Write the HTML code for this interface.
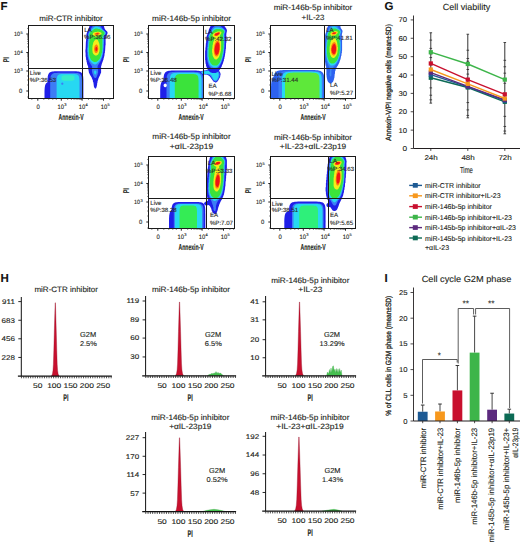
<!DOCTYPE html><html><head><meta charset="utf-8"><style>html,body{margin:0;padding:0;background:#fff;overflow:hidden;}svg{display:block;}text{font-family:"Liberation Sans",sans-serif;stroke:#231f20;stroke-width:0.12px;text-rendering:geometricPrecision;}</style></head><body>
<svg width="520" height="543" viewBox="0 0 520 543">
<rect width="520" height="543" fill="#fff"/>
<defs><clipPath id="c1"><rect x="29.0" y="26.0" width="84.0" height="72.0"/></clipPath><clipPath id="c2"><rect x="149.0" y="26.0" width="85.0" height="72.0"/></clipPath><clipPath id="c3"><rect x="271.0" y="26.0" width="84.0" height="72.0"/></clipPath><clipPath id="c4"><rect x="149.0" y="157.0" width="85.0" height="71.0"/></clipPath><clipPath id="c5"><rect x="271.0" y="157.0" width="84.0" height="71.0"/></clipPath></defs>
<text x="0.50" y="10.00" font-size="11.5" font-weight="bold" text-anchor="start" textLength="7.02" lengthAdjust="spacingAndGlyphs" fill="#111">F</text>
<g clip-path="url(#c1)">
<path d="M83.40,90.60 83.38,100.26 83.32,102.36 83.22,103.79 83.08,104.88 82.90,105.77 82.68,106.51 82.41,107.15 82.08,107.70 81.71,108.17 81.27,108.58 80.76,108.93 80.18,109.22 79.48,109.46 78.66,109.66 77.65,109.81 76.33,109.92 74.39,109.98 65.45,110.00 56.51,109.98 54.57,109.92 53.25,109.81 52.24,109.66 51.42,109.46 50.72,109.22 50.14,108.93 49.63,108.58 49.19,108.17 48.82,107.70 48.49,107.15 48.22,106.51 48.00,105.77 47.82,104.88 47.68,103.79 47.58,102.36 47.52,100.26 47.50,90.60 47.52,80.94 47.58,78.84 47.68,77.41 47.82,76.32 48.00,75.43 48.22,74.69 48.49,74.05 48.82,73.50 49.19,73.03 49.63,72.62 50.14,72.27 50.72,71.98 51.42,71.74 52.24,71.54 53.25,71.39 54.57,71.28 56.51,71.22 65.45,71.20 74.39,71.22 76.33,71.28 77.65,71.39 78.66,71.54 79.48,71.74 80.18,71.98 80.76,72.27 81.27,72.62 81.71,73.03 82.08,73.50 82.41,74.05 82.68,74.69 82.90,75.43 83.08,76.32 83.22,77.41 83.32,78.84 83.38,80.94Z" fill="#1f1fe8"/>
<path d="M58.00,96.00 57.99,100.13 57.95,101.83 57.88,103.12 57.79,104.19 57.68,105.10 57.53,105.90 57.36,106.60 57.16,107.22 56.93,107.77 56.66,108.25 56.36,108.67 56.02,109.03 55.64,109.33 55.20,109.57 54.68,109.76 54.06,109.89 53.24,109.97 51.25,110.00 49.26,109.97 48.44,109.89 47.82,109.76 47.30,109.57 46.86,109.33 46.48,109.03 46.14,108.67 45.84,108.25 45.57,107.77 45.34,107.22 45.14,106.60 44.97,105.90 44.82,105.10 44.71,104.19 44.62,103.12 44.55,101.83 44.51,100.13 44.50,96.00 44.51,91.87 44.55,90.17 44.62,88.88 44.71,87.81 44.82,86.90 44.97,86.10 45.14,85.40 45.34,84.78 45.57,84.23 45.84,83.75 46.14,83.33 46.48,82.97 46.86,82.67 47.30,82.43 47.82,82.24 48.44,82.11 49.26,82.03 51.25,82.00 53.24,82.03 54.06,82.11 54.68,82.24 55.20,82.43 55.64,82.67 56.02,82.97 56.36,83.33 56.66,83.75 56.93,84.23 57.16,84.78 57.36,85.40 57.53,86.10 57.68,86.90 57.79,87.81 57.88,88.88 57.95,90.17 57.99,91.87Z" fill="#1f1fe8"/>
<path d="M82.00,90.90 81.98,99.91 81.93,101.88 81.84,103.20 81.72,104.22 81.56,105.05 81.36,105.75 81.12,106.34 80.83,106.85 80.50,107.29 80.11,107.67 79.67,108.00 79.14,108.27 78.53,108.50 77.80,108.68 76.91,108.82 75.74,108.92 74.02,108.98 66.10,109.00 58.18,108.98 56.46,108.92 55.29,108.82 54.40,108.68 53.67,108.50 53.06,108.27 52.53,108.00 52.09,107.67 51.70,107.29 51.37,106.85 51.08,106.34 50.84,105.75 50.64,105.05 50.48,104.22 50.36,103.20 50.27,101.88 50.22,99.91 50.20,90.90 50.22,81.89 50.27,79.92 50.36,78.60 50.48,77.58 50.64,76.75 50.84,76.05 51.08,75.46 51.37,74.95 51.70,74.51 52.09,74.13 52.53,73.80 53.06,73.53 53.67,73.30 54.40,73.12 55.29,72.98 56.46,72.88 58.18,72.82 66.10,72.80 74.02,72.82 75.74,72.88 76.91,72.98 77.80,73.12 78.53,73.30 79.14,73.53 79.67,73.80 80.11,74.13 80.50,74.51 80.83,74.95 81.12,75.46 81.36,76.05 81.56,76.75 81.72,77.58 81.84,78.60 81.93,79.92 81.98,81.89Z" fill="#3d7df5"/>
<path d="M79.50,91.00 79.49,99.47 79.45,101.31 79.39,102.55 79.30,103.51 79.18,104.29 79.04,104.95 78.87,105.50 78.66,105.98 78.42,106.40 78.14,106.75 77.82,107.06 77.44,107.32 77.00,107.53 76.48,107.70 75.83,107.83 74.99,107.93 73.75,107.98 68.05,108.00 62.35,107.98 61.11,107.93 60.27,107.83 59.62,107.70 59.10,107.53 58.66,107.32 58.28,107.06 57.96,106.75 57.68,106.40 57.44,105.98 57.23,105.50 57.06,104.95 56.92,104.29 56.80,103.51 56.71,102.55 56.65,101.31 56.61,99.47 56.60,91.00 56.61,82.53 56.65,80.69 56.71,79.45 56.80,78.49 56.92,77.71 57.06,77.05 57.23,76.50 57.44,76.02 57.68,75.60 57.96,75.25 58.28,74.94 58.66,74.68 59.10,74.47 59.62,74.30 60.27,74.17 61.11,74.07 62.35,74.02 68.05,74.00 73.75,74.02 74.99,74.07 75.83,74.17 76.48,74.30 77.00,74.47 77.44,74.68 77.82,74.94 78.14,75.25 78.42,75.60 78.66,76.02 78.87,76.50 79.04,77.05 79.18,77.71 79.30,78.49 79.39,79.45 79.45,80.69 79.49,82.53Z" fill="#27d8f2"/>
<path d="M74.50,78.00 74.49,78.83 74.45,79.17 74.39,79.42 74.30,79.64 74.19,79.82 74.05,79.98 73.88,80.12 73.69,80.24 73.47,80.35 73.21,80.45 72.92,80.53 72.60,80.61 72.23,80.67 71.80,80.71 71.31,80.75 70.71,80.78 69.92,80.79 68.00,80.80 66.08,80.79 65.29,80.78 64.69,80.75 64.20,80.71 63.77,80.67 63.40,80.61 63.08,80.53 62.79,80.45 62.53,80.35 62.31,80.24 62.12,80.12 61.95,79.98 61.81,79.82 61.70,79.64 61.61,79.42 61.55,79.17 61.51,78.83 61.50,78.00 61.51,77.17 61.55,76.83 61.61,76.58 61.70,76.36 61.81,76.18 61.95,76.02 62.12,75.88 62.31,75.76 62.53,75.65 62.79,75.55 63.08,75.47 63.40,75.39 63.77,75.33 64.20,75.29 64.69,75.25 65.29,75.22 66.08,75.21 68.00,75.20 69.92,75.21 70.71,75.22 71.31,75.25 71.80,75.29 72.23,75.33 72.60,75.39 72.92,75.47 73.21,75.55 73.47,75.65 73.69,75.76 73.88,75.88 74.05,76.02 74.19,76.18 74.30,76.36 74.39,76.58 74.45,76.83 74.49,77.17Z" fill="#38eec8"/>
<path d="M63.40,83.70 63.40,83.80 63.38,83.89 63.36,83.98 63.33,84.08 63.30,84.16 63.25,84.25 63.20,84.33 63.14,84.41 63.08,84.48 63.01,84.54 62.93,84.60 62.85,84.65 62.76,84.70 62.68,84.73 62.58,84.76 62.49,84.78 62.40,84.80 62.30,84.80 62.20,84.80 62.11,84.78 62.02,84.76 61.92,84.73 61.84,84.70 61.75,84.65 61.67,84.60 61.59,84.54 61.52,84.48 61.46,84.41 61.40,84.33 61.35,84.25 61.30,84.16 61.27,84.08 61.24,83.98 61.22,83.89 61.20,83.80 61.20,83.70 61.20,83.60 61.22,83.51 61.24,83.42 61.27,83.32 61.30,83.24 61.35,83.15 61.40,83.07 61.46,82.99 61.52,82.92 61.59,82.86 61.67,82.80 61.75,82.75 61.84,82.70 61.92,82.67 62.02,82.64 62.11,82.62 62.20,82.60 62.30,82.60 62.40,82.60 62.49,82.62 62.58,82.64 62.68,82.67 62.76,82.70 62.85,82.75 62.93,82.80 63.01,82.86 63.08,82.92 63.14,82.99 63.20,83.07 63.25,83.15 63.30,83.24 63.33,83.32 63.36,83.42 63.38,83.51 63.40,83.60Z" fill="#3d7df5"/>
</g>
<path d="M103.9,26.1 89.6,26.1 89.1,26.9 89.1,27.4 88.1,29.4 87.9,30.6 86.9,32.4 86.9,32.9 86.4,33.9 86.4,38.6 86.1,38.9 86.1,41.1 85.9,41.4 85.6,49.4 85.4,49.6 85.4,52.4 85.6,52.6 85.6,56.6 85.9,56.9 85.9,58.4 86.1,58.6 86.1,59.9 86.4,60.1 86.6,62.1 86.9,62.4 87.1,63.9 88.1,66.6 88.4,70.1 88.6,70.4 88.9,72.6 90.1,75.1 91.4,76.9 91.9,77.9 91.9,78.4 92.4,79.1 92.4,79.6 92.9,80.6 92.9,81.4 93.4,82.4 93.9,86.4 94.6,88.1 95.1,88.4 95.9,88.4 96.6,87.1 96.9,85.4 97.1,85.1 97.1,83.4 97.4,83.1 97.6,80.9 97.9,80.6 98.6,77.9 100.1,75.1 100.1,74.6 100.6,73.9 100.6,73.4 101.1,72.4 101.1,66.1 101.4,65.9 101.4,65.1 101.6,64.9 101.6,64.4 103.6,58.9 103.6,58.1 103.9,57.9 103.9,57.1 104.4,55.9 104.4,54.6 104.6,54.4 104.6,53.1 104.9,52.9 104.9,51.4 105.1,51.1 105.4,45.4 105.6,45.1 105.6,37.9 105.9,37.6 105.9,36.4 107.4,33.9 107.6,32.4 107.1,31.4 105.1,29.4 104.4,27.9Z" fill="#1f1fe8" fill-rule="evenodd"/>
<path d="M100.4,26.1 92.9,26.1 91.9,27.1 90.9,28.6 90.4,29.9 88.6,32.4 87.9,34.4 88.1,38.6 87.9,38.9 87.9,40.6 87.6,40.9 87.4,47.6 87.1,47.9 87.1,52.1 87.4,52.4 87.4,55.1 87.6,55.4 87.6,56.9 87.9,57.1 87.9,58.1 88.1,58.4 88.1,59.1 88.4,59.4 88.6,60.6 90.1,63.6 92.1,66.6 92.1,69.9 91.9,70.1 92.1,72.6 92.4,72.9 92.6,74.1 93.1,74.9 93.1,75.4 93.9,76.9 94.9,78.1 95.6,78.1 96.4,77.4 97.6,74.6 97.9,73.1 98.1,72.9 98.1,69.9 97.6,68.6 97.6,66.1 99.1,63.4 100.1,62.1 101.4,59.6 101.4,59.1 102.6,55.9 102.6,55.1 102.9,54.9 103.1,52.4 103.4,52.1 103.4,50.6 103.6,50.4 103.6,47.9 103.9,47.6 103.9,42.1 104.1,41.9 104.1,39.1 103.9,38.9 103.9,37.9 104.1,37.6 104.4,35.9 105.9,33.6 105.9,32.4 105.6,31.9 102.4,28.9 101.9,27.9Z" fill="#3d7df5" fill-rule="evenodd"/>
<path d="M94.6,70.4 94.1,71.1 94.1,73.1 94.9,74.4 95.6,74.4 96.4,72.9 96.4,71.6 95.6,70.4ZM97.6,26.6 95.4,26.6 93.6,27.4 91.6,29.4 90.9,30.6 89.9,31.6 88.6,33.9 88.9,38.6 88.6,38.9 88.6,40.6 88.4,40.9 88.1,47.4 87.9,47.6 87.9,51.9 88.1,52.1 88.1,54.6 88.4,54.9 88.4,56.1 88.6,56.4 88.6,57.1 88.9,57.4 88.9,58.1 89.1,58.4 89.4,59.6 90.9,62.1 92.6,63.6 94.6,64.4 95.4,64.4 97.1,63.6 99.1,61.6 100.1,60.1 101.4,57.4 101.4,56.9 101.9,55.9 101.9,55.1 102.1,54.9 102.1,54.1 102.4,53.9 102.6,51.4 102.9,51.1 102.9,49.4 103.1,49.1 103.1,44.4 103.4,44.1 103.4,39.4 103.1,39.1 103.1,37.6 103.4,37.4 103.4,36.6 104.9,34.4 105.4,33.1 105.1,32.1 103.9,30.9 101.9,29.6 99.9,27.6 99.1,27.1 98.6,27.1Z" fill="#27d8f2" fill-rule="evenodd"/>
<path d="M97.6,28.6 95.4,28.6 93.6,29.4 90.6,31.9 89.9,32.9 89.4,34.1 89.4,35.4 89.6,35.6 89.9,37.9 89.6,38.1 89.6,39.9 89.4,40.1 89.4,41.9 89.1,42.1 89.1,44.6 88.9,44.9 88.9,53.1 89.1,53.4 89.1,54.6 89.4,54.9 89.4,55.9 89.6,56.1 89.9,57.6 91.1,59.9 92.4,61.1 94.1,61.9 96.1,61.9 97.6,61.1 99.6,58.9 101.1,55.6 101.6,53.1 101.9,52.9 102.1,49.9 102.4,49.6 102.4,36.9 103.4,35.1 104.1,34.4 104.6,33.1 104.1,31.9 102.4,30.6 99.4,29.1 97.9,28.9Z" fill="#3be33b" fill-rule="evenodd"/>
<path d="M95.6,39.6 94.1,40.9 93.1,43.1 93.1,43.9 92.6,45.1 92.6,46.4 92.4,46.6 92.4,51.1 92.6,51.4 92.6,52.4 93.4,54.1 95.1,55.6 96.6,55.6 98.1,54.4 98.9,53.1 98.9,52.6 99.4,51.6 99.4,50.6 99.6,50.4 99.6,45.4 99.4,45.1 99.4,43.9 98.1,40.6 96.9,39.6ZM101.6,33.1 100.9,32.4 99.9,31.9 98.6,31.9 98.4,31.6 97.6,31.6 97.4,31.9 95.6,31.9 93.6,32.6 92.9,33.4 92.6,34.6 92.9,35.1 94.1,36.1 95.4,36.4 95.6,36.6 96.6,36.6 96.9,36.4 98.4,36.1 100.9,34.6 101.6,33.6Z" fill="#f2ee1a" fill-rule="evenodd"/>
<path d="M96.9,44.6 96.1,44.6 95.1,45.4 94.6,46.1 94.4,47.6 94.1,47.9 94.1,50.4 94.4,50.6 94.6,51.9 95.6,52.9 96.6,52.9 97.6,51.9 98.1,50.6 98.1,49.6 98.4,49.4 98.1,46.4 97.6,45.4ZM94.6,34.4 95.4,34.9 98.1,34.9 99.6,34.1 99.9,33.4 98.9,32.6 96.6,32.6 96.4,32.9 95.1,33.1 94.6,33.6Z" fill="#ff7a10" fill-rule="evenodd"/>
<path d="M96.1,47.1 95.6,47.6 95.6,48.1 95.4,48.4 95.4,50.1 95.9,50.9 96.6,50.9 97.4,49.4 97.4,48.4 97.1,48.1 97.1,47.6 96.6,47.1ZM98.6,33.6 97.6,33.1 97.4,33.4 96.4,33.4 96.1,33.6 96.1,34.1 98.1,34.1Z" fill="#f01414" fill-rule="evenodd"/>
<text x="71.00" y="20.50" font-size="7.8" text-anchor="middle" textLength="63.40" lengthAdjust="spacingAndGlyphs" fill="#231f20">miR-CTR inhibitor</text>
<rect x="28.50" y="25.50" width="85.00" height="73.00" fill="none" stroke="#1a1a1a" stroke-width="1.0"/>
<line x1="82.50" y1="25.50" x2="82.50" y2="98.50" stroke="#1a1a1a" stroke-width="1.0"/>
<line x1="28.50" y1="68.50" x2="113.50" y2="68.50" stroke="#1a1a1a" stroke-width="1.0"/>
<line x1="26.30" y1="34.00" x2="28.50" y2="34.00" stroke="#222" stroke-width="1.0"/>
<line x1="27.20" y1="28.43" x2="28.50" y2="28.43" stroke="#333" stroke-width="0.7"/>
<line x1="26.30" y1="52.50" x2="28.50" y2="52.50" stroke="#222" stroke-width="1.0"/>
<line x1="27.20" y1="46.93" x2="28.50" y2="46.93" stroke="#333" stroke-width="0.7"/>
<line x1="27.20" y1="43.67" x2="28.50" y2="43.67" stroke="#333" stroke-width="0.7"/>
<line x1="27.20" y1="41.36" x2="28.50" y2="41.36" stroke="#333" stroke-width="0.7"/>
<line x1="27.20" y1="39.57" x2="28.50" y2="39.57" stroke="#333" stroke-width="0.7"/>
<line x1="27.20" y1="38.10" x2="28.50" y2="38.10" stroke="#333" stroke-width="0.7"/>
<line x1="27.20" y1="36.87" x2="28.50" y2="36.87" stroke="#333" stroke-width="0.7"/>
<line x1="27.20" y1="35.79" x2="28.50" y2="35.79" stroke="#333" stroke-width="0.7"/>
<line x1="27.20" y1="34.85" x2="28.50" y2="34.85" stroke="#333" stroke-width="0.7"/>
<line x1="26.30" y1="71.00" x2="28.50" y2="71.00" stroke="#222" stroke-width="1.0"/>
<line x1="27.20" y1="65.43" x2="28.50" y2="65.43" stroke="#333" stroke-width="0.7"/>
<line x1="27.20" y1="62.17" x2="28.50" y2="62.17" stroke="#333" stroke-width="0.7"/>
<line x1="27.20" y1="59.86" x2="28.50" y2="59.86" stroke="#333" stroke-width="0.7"/>
<line x1="27.20" y1="58.07" x2="28.50" y2="58.07" stroke="#333" stroke-width="0.7"/>
<line x1="27.20" y1="56.60" x2="28.50" y2="56.60" stroke="#333" stroke-width="0.7"/>
<line x1="27.20" y1="55.37" x2="28.50" y2="55.37" stroke="#333" stroke-width="0.7"/>
<line x1="27.20" y1="54.29" x2="28.50" y2="54.29" stroke="#333" stroke-width="0.7"/>
<line x1="27.20" y1="53.35" x2="28.50" y2="53.35" stroke="#333" stroke-width="0.7"/>
<line x1="26.30" y1="91.00" x2="28.50" y2="91.00" stroke="#222" stroke-width="1.0"/>
<line x1="27.20" y1="85.00" x2="28.50" y2="85.00" stroke="#333" stroke-width="0.7"/>
<line x1="27.20" y1="80.00" x2="28.50" y2="80.00" stroke="#333" stroke-width="0.7"/>
<line x1="27.20" y1="97.00" x2="28.50" y2="97.00" stroke="#333" stroke-width="0.7"/>
<line x1="27.20" y1="76.00" x2="28.50" y2="76.00" stroke="#333" stroke-width="0.7"/>
<text x="19.90" y="36.20" font-size="6.2" text-anchor="end" textLength="6.00" lengthAdjust="spacingAndGlyphs" fill="#231f20">10</text>
<text x="20.60" y="34.10" font-size="4.0" text-anchor="start" textLength="2.22" lengthAdjust="spacingAndGlyphs" fill="#333">5</text>
<text x="19.90" y="54.70" font-size="6.2" text-anchor="end" textLength="6.00" lengthAdjust="spacingAndGlyphs" fill="#231f20">10</text>
<text x="20.60" y="52.60" font-size="4.0" text-anchor="start" textLength="2.22" lengthAdjust="spacingAndGlyphs" fill="#333">4</text>
<text x="19.90" y="73.20" font-size="6.2" text-anchor="end" textLength="6.00" lengthAdjust="spacingAndGlyphs" fill="#231f20">10</text>
<text x="20.60" y="71.10" font-size="4.0" text-anchor="start" textLength="2.22" lengthAdjust="spacingAndGlyphs" fill="#333">3</text>
<text x="22.20" y="93.20" font-size="6.2" text-anchor="end" textLength="3.28" lengthAdjust="spacingAndGlyphs" fill="#231f20">0</text>
<line x1="61.30" y1="98.50" x2="61.30" y2="100.70" stroke="#222" stroke-width="1.0"/>
<line x1="67.68" y1="98.50" x2="67.68" y2="99.80" stroke="#333" stroke-width="0.7"/>
<line x1="71.41" y1="98.50" x2="71.41" y2="99.80" stroke="#333" stroke-width="0.7"/>
<line x1="74.06" y1="98.50" x2="74.06" y2="99.80" stroke="#333" stroke-width="0.7"/>
<line x1="76.12" y1="98.50" x2="76.12" y2="99.80" stroke="#333" stroke-width="0.7"/>
<line x1="77.80" y1="98.50" x2="77.80" y2="99.80" stroke="#333" stroke-width="0.7"/>
<line x1="79.22" y1="98.50" x2="79.22" y2="99.80" stroke="#333" stroke-width="0.7"/>
<line x1="80.45" y1="98.50" x2="80.45" y2="99.80" stroke="#333" stroke-width="0.7"/>
<line x1="81.53" y1="98.50" x2="81.53" y2="99.80" stroke="#333" stroke-width="0.7"/>
<line x1="82.10" y1="98.50" x2="82.10" y2="100.70" stroke="#222" stroke-width="1.0"/>
<line x1="88.48" y1="98.50" x2="88.48" y2="99.80" stroke="#333" stroke-width="0.7"/>
<line x1="92.21" y1="98.50" x2="92.21" y2="99.80" stroke="#333" stroke-width="0.7"/>
<line x1="94.86" y1="98.50" x2="94.86" y2="99.80" stroke="#333" stroke-width="0.7"/>
<line x1="96.92" y1="98.50" x2="96.92" y2="99.80" stroke="#333" stroke-width="0.7"/>
<line x1="98.60" y1="98.50" x2="98.60" y2="99.80" stroke="#333" stroke-width="0.7"/>
<line x1="100.02" y1="98.50" x2="100.02" y2="99.80" stroke="#333" stroke-width="0.7"/>
<line x1="101.25" y1="98.50" x2="101.25" y2="99.80" stroke="#333" stroke-width="0.7"/>
<line x1="102.33" y1="98.50" x2="102.33" y2="99.80" stroke="#333" stroke-width="0.7"/>
<line x1="103.50" y1="98.50" x2="103.50" y2="100.70" stroke="#222" stroke-width="1.0"/>
<line x1="109.88" y1="98.50" x2="109.88" y2="99.80" stroke="#333" stroke-width="0.7"/>
<line x1="37.80" y1="98.50" x2="37.80" y2="100.70" stroke="#222" stroke-width="1.0"/>
<line x1="31.80" y1="98.50" x2="31.80" y2="99.80" stroke="#333" stroke-width="0.7"/>
<line x1="43.80" y1="98.50" x2="43.80" y2="99.80" stroke="#333" stroke-width="0.7"/>
<line x1="48.80" y1="98.50" x2="48.80" y2="99.80" stroke="#333" stroke-width="0.7"/>
<line x1="52.80" y1="98.50" x2="52.80" y2="99.80" stroke="#333" stroke-width="0.7"/>
<line x1="56.30" y1="98.50" x2="56.30" y2="99.80" stroke="#333" stroke-width="0.7"/>
<text x="60.85" y="108.60" font-size="6.3" text-anchor="middle" textLength="6.50" lengthAdjust="spacingAndGlyphs" fill="#231f20">10</text>
<text x="64.35" y="106.40" font-size="4.0" text-anchor="start" textLength="2.22" lengthAdjust="spacingAndGlyphs" fill="#333">3</text>
<text x="81.90" y="108.60" font-size="6.3" text-anchor="middle" textLength="6.50" lengthAdjust="spacingAndGlyphs" fill="#231f20">10</text>
<text x="85.40" y="106.40" font-size="4.0" text-anchor="start" textLength="2.22" lengthAdjust="spacingAndGlyphs" fill="#333">4</text>
<text x="104.00" y="108.60" font-size="6.3" text-anchor="middle" textLength="6.50" lengthAdjust="spacingAndGlyphs" fill="#231f20">10</text>
<text x="107.50" y="106.40" font-size="4.0" text-anchor="start" textLength="2.22" lengthAdjust="spacingAndGlyphs" fill="#333">5</text>
<text x="38.10" y="108.60" font-size="6.3" text-anchor="middle" textLength="3.33" lengthAdjust="spacingAndGlyphs" fill="#231f20">0</text>
<text x="71.10" y="120.20" font-size="8.6" font-weight="bold" text-anchor="middle" textLength="25.20" lengthAdjust="spacingAndGlyphs" fill="#231f20">Annexin-V</text>
<text transform="translate(8.70,59.60) rotate(-90)" x="0" y="0" font-size="8.4" font-weight="bold" text-anchor="middle" textLength="4.80" lengthAdjust="spacingAndGlyphs" fill="#231f20">PI</text>
<text x="84.20" y="31.60" font-size="6.1" text-anchor="start" textLength="7.46" lengthAdjust="spacingAndGlyphs" fill="#2a2a2a">LA</text>
<text x="84.00" y="39.40" font-size="6.1" text-anchor="start" textLength="26.45" lengthAdjust="spacingAndGlyphs" fill="#2a2a2a">%P:36.96</text>
<text x="29.80" y="74.60" font-size="6.1" text-anchor="start" textLength="11.19" lengthAdjust="spacingAndGlyphs" fill="#2a2a2a">Live</text>
<text x="29.80" y="82.00" font-size="6.1" text-anchor="start" textLength="26.45" lengthAdjust="spacingAndGlyphs" fill="#2a2a2a">%P:36.53</text>
<g clip-path="url(#c2)">
<path d="M204.00,90.25 203.98,100.09 203.91,102.23 203.80,103.67 203.64,104.79 203.44,105.69 203.18,106.45 202.88,107.10 202.52,107.66 202.09,108.14 201.60,108.55 201.03,108.91 200.36,109.20 199.58,109.45 198.65,109.65 197.51,109.81 196.03,109.91 193.83,109.98 183.75,110.00 173.67,109.98 171.47,109.91 169.99,109.81 168.85,109.65 167.92,109.45 167.14,109.20 166.47,108.91 165.90,108.55 165.41,108.14 164.98,107.66 164.62,107.10 164.32,106.45 164.06,105.69 163.86,104.79 163.70,103.67 163.59,102.23 163.52,100.09 163.50,90.25 163.52,80.41 163.59,78.27 163.70,76.83 163.86,75.71 164.06,74.81 164.32,74.05 164.62,73.40 164.98,72.84 165.41,72.36 165.90,71.95 166.47,71.59 167.14,71.30 167.92,71.05 168.85,70.85 169.99,70.69 171.47,70.59 173.67,70.52 183.75,70.50 193.83,70.52 196.03,70.59 197.51,70.69 198.65,70.85 199.58,71.05 200.36,71.30 201.03,71.59 201.60,71.95 202.09,72.36 202.52,72.84 202.88,73.40 203.18,74.05 203.44,74.81 203.64,75.71 203.80,76.83 203.91,78.27 203.98,80.41Z" fill="#1f1fe8"/>
<path d="M175.00,95.00 174.99,99.43 174.94,101.25 174.87,102.63 174.77,103.77 174.64,104.75 174.49,105.61 174.30,106.36 174.08,107.03 173.82,107.61 173.53,108.13 173.20,108.58 172.83,108.96 172.41,109.28 171.93,109.54 171.36,109.74 170.68,109.89 169.78,109.97 167.60,110.00 165.42,109.97 164.52,109.89 163.84,109.74 163.27,109.54 162.79,109.28 162.37,108.96 162.00,108.58 161.67,108.13 161.38,107.61 161.12,107.03 160.90,106.36 160.71,105.61 160.56,104.75 160.43,103.77 160.33,102.63 160.26,101.25 160.21,99.43 160.20,95.00 160.21,90.57 160.26,88.75 160.33,87.37 160.43,86.23 160.56,85.25 160.71,84.39 160.90,83.64 161.12,82.97 161.38,82.39 161.67,81.87 162.00,81.42 162.37,81.04 162.79,80.72 163.27,80.46 163.84,80.26 164.52,80.11 165.42,80.03 167.60,80.00 169.78,80.03 170.68,80.11 171.36,80.26 171.93,80.46 172.41,80.72 172.83,81.04 173.20,81.42 173.53,81.87 173.82,82.39 174.08,82.97 174.30,83.64 174.49,84.39 174.64,85.25 174.77,86.23 174.87,87.37 174.94,88.75 174.99,90.57Z" fill="#1f1fe8"/>
<path d="M203.00,90.40 202.98,99.66 202.92,101.68 202.82,103.04 202.68,104.09 202.49,104.94 202.27,105.66 201.99,106.27 201.66,106.79 201.28,107.25 200.84,107.64 200.32,107.97 199.72,108.25 199.02,108.48 198.18,108.67 197.15,108.82 195.82,108.92 193.84,108.98 184.75,109.00 175.66,108.98 173.68,108.92 172.35,108.82 171.32,108.67 170.48,108.48 169.78,108.25 169.18,107.97 168.66,107.64 168.22,107.25 167.84,106.79 167.51,106.27 167.23,105.66 167.01,104.94 166.82,104.09 166.68,103.04 166.58,101.68 166.52,99.66 166.50,90.40 166.52,81.14 166.58,79.12 166.68,77.76 166.82,76.71 167.01,75.86 167.23,75.14 167.51,74.53 167.84,74.01 168.22,73.55 168.66,73.16 169.18,72.83 169.78,72.55 170.48,72.32 171.32,72.13 172.35,71.98 173.68,71.88 175.66,71.82 184.75,71.80 193.84,71.82 195.82,71.88 197.15,71.98 198.18,72.13 199.02,72.32 199.72,72.55 200.32,72.83 200.84,73.16 201.28,73.55 201.66,74.01 201.99,74.53 202.27,75.14 202.49,75.86 202.68,76.71 202.82,77.76 202.92,79.12 202.98,81.14Z" fill="#3d7df5"/>
<path d="M201.60,90.40 201.58,99.16 201.53,101.07 201.44,102.36 201.32,103.35 201.16,104.16 200.96,104.84 200.72,105.42 200.43,105.91 200.10,106.34 199.71,106.71 199.26,107.02 198.73,107.29 198.12,107.51 197.39,107.69 196.49,107.83 195.32,107.92 193.59,107.98 185.65,108.00 177.71,107.98 175.98,107.92 174.81,107.83 173.91,107.69 173.18,107.51 172.57,107.29 172.04,107.02 171.59,106.71 171.20,106.34 170.87,105.91 170.58,105.42 170.34,104.84 170.14,104.16 169.98,103.35 169.86,102.36 169.77,101.07 169.72,99.16 169.70,90.40 169.72,81.64 169.77,79.73 169.86,78.44 169.98,77.45 170.14,76.64 170.34,75.96 170.58,75.38 170.87,74.89 171.20,74.46 171.59,74.09 172.04,73.78 172.57,73.51 173.18,73.29 173.91,73.11 174.81,72.97 175.98,72.88 177.71,72.82 185.65,72.80 193.59,72.82 195.32,72.88 196.49,72.97 197.39,73.11 198.12,73.29 198.73,73.51 199.26,73.78 199.71,74.09 200.10,74.46 200.43,74.89 200.72,75.38 200.96,75.96 201.16,76.64 201.32,77.45 201.44,78.44 201.53,79.73 201.58,81.64Z" fill="#27d8f2"/>
<path d="M198.60,90.00 198.59,97.97 198.55,99.70 198.48,100.87 198.39,101.78 198.27,102.51 198.12,103.13 197.94,103.65 197.73,104.10 197.48,104.49 197.19,104.83 196.85,105.11 196.46,105.36 196.00,105.56 195.46,105.72 194.79,105.84 193.92,105.93 192.63,105.98 186.70,106.00 180.77,105.98 179.48,105.93 178.61,105.84 177.94,105.72 177.40,105.56 176.94,105.36 176.55,105.11 176.21,104.83 175.92,104.49 175.67,104.10 175.46,103.65 175.28,103.13 175.13,102.51 175.01,101.78 174.92,100.87 174.85,99.70 174.81,97.97 174.80,90.00 174.81,82.03 174.85,80.30 174.92,79.13 175.01,78.22 175.13,77.49 175.28,76.87 175.46,76.35 175.67,75.90 175.92,75.51 176.21,75.17 176.55,74.89 176.94,74.64 177.40,74.44 177.94,74.28 178.61,74.16 179.48,74.07 180.77,74.02 186.70,74.00 192.63,74.02 193.92,74.07 194.79,74.16 195.46,74.28 196.00,74.44 196.46,74.64 196.85,74.89 197.19,75.17 197.48,75.51 197.73,75.90 197.94,76.35 198.12,76.87 198.27,77.49 198.39,78.22 198.48,79.13 198.55,80.30 198.59,82.03Z" fill="#3be33b"/>
<path d="M166.80,85.40 166.79,85.56 166.78,85.71 166.75,85.87 166.70,86.02 166.65,86.16 166.59,86.30 166.51,86.43 166.43,86.56 166.33,86.67 166.23,86.78 166.12,86.87 166.00,86.96 165.88,87.03 165.75,87.09 165.61,87.14 165.48,87.17 165.34,87.19 165.20,87.20 165.06,87.19 164.92,87.17 164.79,87.14 164.65,87.09 164.52,87.03 164.40,86.96 164.28,86.87 164.17,86.78 164.07,86.67 163.97,86.56 163.89,86.43 163.81,86.30 163.75,86.16 163.70,86.02 163.65,85.87 163.62,85.71 163.61,85.56 163.60,85.40 163.61,85.24 163.62,85.09 163.65,84.93 163.70,84.78 163.75,84.64 163.81,84.50 163.89,84.37 163.97,84.24 164.07,84.13 164.17,84.02 164.28,83.93 164.40,83.84 164.52,83.77 164.65,83.71 164.79,83.66 164.92,83.63 165.06,83.61 165.20,83.60 165.34,83.61 165.48,83.63 165.61,83.66 165.75,83.71 165.88,83.77 166.00,83.84 166.12,83.93 166.23,84.02 166.33,84.13 166.43,84.24 166.51,84.37 166.59,84.50 166.65,84.64 166.70,84.78 166.75,84.93 166.78,85.09 166.79,85.24Z" fill="#ffffff"/>
</g>
<path d="M200.1,72.1 200.1,72.9 200.9,73.6 201.9,74.1 204.4,74.4 204.6,74.6 206.6,74.6 208.6,75.4 209.9,76.6 213.4,81.4 214.4,82.1 214.9,82.1 215.1,82.4 215.9,82.4 216.9,81.9 217.9,80.9 220.1,76.9 220.4,75.1 220.6,74.9 220.4,73.1 219.6,71.6 218.4,70.4 215.9,69.4 213.1,69.4 212.9,69.6 209.1,69.4 208.9,69.6 207.9,69.6 207.6,69.9 206.9,69.9 205.6,70.4 204.4,70.4 204.1,70.6 201.9,70.9 200.9,71.4Z" fill="#1f1fe8" fill-rule="evenodd"/>
<path d="M200.9,72.1 200.9,72.9 201.6,73.6 202.1,73.6 203.1,74.1 207.4,74.4 209.4,75.1 210.9,76.6 212.9,79.9 214.9,81.6 216.1,81.6 217.4,80.6 219.1,77.4 219.1,76.9 219.6,75.9 219.6,73.4 218.6,71.6 217.6,70.9 215.6,70.1 210.6,70.1 210.4,69.9 208.9,69.9 208.6,70.1 207.6,70.1 207.4,70.4 206.4,70.4 206.1,70.6 203.1,70.9 202.9,71.1 201.6,71.4Z" fill="#3d7df5" fill-rule="evenodd"/>
<path d="M201.9,72.1 201.9,72.9 202.4,73.4 202.9,73.4 203.1,73.6 204.4,73.6 204.6,73.9 207.6,73.9 207.9,74.1 209.4,74.1 209.6,74.4 210.1,74.4 211.1,75.1 213.9,79.9 214.9,80.6 216.1,80.6 217.1,79.6 217.9,78.1 217.9,77.6 218.4,76.6 218.4,75.9 218.6,75.6 218.6,74.1 218.1,72.9 217.1,71.9 216.1,71.4 214.9,71.4 214.6,71.1 214.1,71.4 212.6,71.4 212.4,71.1 211.6,71.1 210.4,70.6 207.9,70.6 207.6,70.9 206.4,70.9 206.1,71.1 203.1,71.4 202.9,71.6 202.4,71.6Z" fill="#27d8f2" fill-rule="evenodd"/>
<path d="M224.4,26.1 210.6,26.1 208.9,29.6 208.9,30.1 208.6,30.4 208.6,30.9 206.6,36.4 206.6,37.4 206.4,37.6 206.4,40.6 206.1,40.9 206.1,42.9 205.9,43.1 205.6,47.4 205.4,47.6 205.4,50.4 205.1,50.6 205.1,60.1 205.4,60.4 205.4,62.4 205.6,62.6 205.6,63.9 205.9,64.1 206.1,65.9 207.9,69.9 208.9,70.9 208.9,71.1 210.6,72.4 211.1,72.4 212.1,72.9 213.4,72.9 213.6,73.1 215.9,72.9 217.4,72.1 218.9,70.9 220.9,68.1 221.9,66.1 221.9,65.6 222.9,63.6 222.9,63.1 223.4,62.1 223.4,61.4 223.9,60.4 223.9,59.6 224.4,58.4 224.4,57.4 224.9,56.1 224.9,54.9 225.1,54.6 225.1,53.4 225.4,53.1 225.4,51.4 225.6,51.1 225.6,49.4 225.9,49.1 226.1,42.9 226.4,42.6 226.4,35.6 226.1,35.4 226.1,34.9 226.4,34.6 226.4,33.1 226.6,32.9 226.6,31.9 226.9,31.6 226.9,29.9 226.6,29.6 226.6,29.1Z" fill="#1f1fe8" fill-rule="evenodd"/>
<path d="M220.4,26.1 214.6,26.1 214.1,26.4 212.4,28.1 211.4,29.6 209.9,32.9 208.9,34.4 208.9,34.9 208.4,35.6 208.4,36.4 208.1,36.6 208.1,40.6 207.9,40.9 207.9,42.6 207.6,42.9 207.6,44.6 207.4,44.9 207.4,46.9 207.1,47.1 207.1,49.9 206.9,50.1 206.9,57.9 207.1,58.1 207.4,61.4 207.6,61.6 207.6,62.4 207.9,62.6 208.4,64.6 209.4,66.4 211.1,68.1 213.9,69.1 215.4,69.1 217.6,68.1 218.9,66.9 220.1,65.1 221.4,62.6 221.4,62.1 221.9,61.4 221.9,60.9 222.4,59.9 222.4,59.1 222.6,58.9 223.1,56.4 223.4,56.1 223.6,53.9 223.9,53.6 223.9,52.1 224.1,51.9 224.1,50.4 224.4,50.1 224.4,47.9 224.6,47.6 224.6,43.9 224.9,43.6 224.6,34.1 225.4,32.1 225.4,30.4 224.1,28.9Z" fill="#3d7df5" fill-rule="evenodd"/>
<path d="M219.1,27.4 215.9,27.4 214.4,28.1 212.1,30.4 210.1,33.4 208.9,36.1 208.9,40.9 208.6,41.1 208.6,42.6 208.4,42.9 208.1,46.9 207.9,47.1 207.9,49.9 207.6,50.1 207.6,56.9 207.9,57.1 207.9,58.9 208.1,59.1 208.1,60.1 208.4,60.4 208.6,62.1 209.1,62.9 209.4,63.9 210.4,65.4 211.9,66.6 213.6,67.4 216.1,67.4 217.1,66.9 218.4,65.9 219.9,63.9 220.9,61.9 220.9,61.4 221.4,60.6 221.4,60.1 222.4,57.6 222.4,56.9 222.9,55.6 222.9,54.6 223.1,54.4 223.1,53.4 223.4,53.1 223.6,49.9 223.9,49.6 223.9,47.1 224.1,46.9 224.1,37.9 223.9,37.6 223.9,34.4 224.1,34.1 224.1,33.6 224.6,32.6 224.6,31.6 224.9,31.4 224.6,31.1 224.6,30.4 223.6,29.4 222.4,28.6 221.9,28.6 220.6,27.9 220.1,27.9Z" fill="#27d8f2" fill-rule="evenodd"/>
<path d="M220.1,28.9 217.4,28.9 217.1,29.1 216.1,29.1 214.1,30.1 211.1,33.1 209.6,36.1 209.6,38.6 209.9,38.9 209.9,40.1 209.6,40.4 209.6,41.9 209.4,42.1 209.4,43.4 209.1,43.6 209.1,45.6 208.9,45.9 208.9,47.9 208.6,48.1 208.6,56.9 208.9,57.1 209.1,59.6 210.6,63.1 212.4,64.9 214.1,65.6 216.1,65.6 216.4,65.4 216.9,65.4 217.6,64.9 219.4,62.9 220.9,59.9 220.9,59.4 221.9,56.9 221.9,56.1 222.1,55.9 222.1,55.1 222.6,53.9 222.6,52.6 222.9,52.4 223.1,48.9 223.4,48.6 223.4,44.9 223.6,44.6 223.6,41.4 223.4,41.1 223.4,38.1 223.1,37.9 223.1,34.6 224.1,32.1 224.1,31.1 223.1,29.9 222.1,29.4 220.4,29.1Z" fill="#3be33b" fill-rule="evenodd"/>
<path d="M220.6,31.4 217.9,31.4 217.6,31.6 216.4,31.9 214.1,33.1 213.1,34.1 212.6,35.1 212.6,36.1 212.9,36.6 214.4,37.9 214.6,38.9 214.4,39.1 214.1,40.4 213.6,41.1 213.6,41.6 213.1,42.6 213.1,43.4 212.9,43.6 212.9,44.6 212.6,44.9 212.4,48.6 212.1,48.9 212.1,52.6 212.4,52.9 212.6,55.4 213.6,57.6 214.6,58.9 215.6,59.4 216.6,59.4 217.1,59.1 218.6,57.6 219.6,55.6 219.6,55.1 220.1,54.1 220.1,53.4 220.4,53.1 220.4,52.4 220.6,52.1 220.6,51.1 220.9,50.9 220.9,49.1 221.1,48.9 221.1,42.6 220.9,42.4 220.9,41.1 220.6,40.9 220.4,39.4 219.4,37.6 219.4,36.4 221.4,33.1 221.4,31.9Z" fill="#f2ee1a" fill-rule="evenodd"/>
<path d="M218.1,40.4 216.9,40.6 215.9,41.6 214.4,45.1 214.1,47.6 213.9,47.9 213.9,52.4 214.1,52.6 214.1,53.6 214.9,55.4 215.9,56.4 217.1,56.4 218.1,55.4 219.1,53.4 219.4,51.9 219.6,51.6 219.6,50.6 219.9,50.4 219.9,48.6 220.1,48.4 220.1,44.9 219.9,44.6 219.9,43.4 219.1,41.4ZM220.1,32.6 219.4,32.1 217.1,32.4 214.9,33.6 214.1,34.6 214.1,35.4 215.1,36.1 217.4,35.9 218.6,35.1 219.9,33.9Z" fill="#ff7a10" fill-rule="evenodd"/>
<path d="M217.6,42.1 216.1,43.4 215.6,44.4 215.6,44.9 215.1,45.9 215.1,46.6 214.9,46.9 214.9,48.4 214.6,48.6 214.6,51.4 214.9,51.6 214.9,52.6 215.6,54.4 216.4,54.9 217.4,54.6 218.4,53.4 218.4,52.9 218.9,52.1 218.9,51.4 219.1,51.1 219.1,50.1 219.4,49.9 219.4,44.6 219.1,44.4 218.9,43.1ZM219.4,32.9 218.9,32.6 217.1,32.9 215.6,33.6 215.1,34.1 215.1,34.6 214.9,34.9 215.4,35.4 216.9,35.4 218.4,34.6 219.1,33.9Z" fill="#f01414" fill-rule="evenodd"/>
<text x="191.50" y="20.50" font-size="7.8" text-anchor="middle" textLength="79.00" lengthAdjust="spacingAndGlyphs" fill="#231f20">miR-146b-5p inhibitor</text>
<rect x="148.50" y="25.50" width="86.00" height="73.00" fill="none" stroke="#1a1a1a" stroke-width="1.0"/>
<line x1="203.50" y1="25.50" x2="203.50" y2="98.50" stroke="#1a1a1a" stroke-width="1.0"/>
<line x1="148.50" y1="68.50" x2="234.50" y2="68.50" stroke="#1a1a1a" stroke-width="1.0"/>
<line x1="146.30" y1="34.00" x2="148.50" y2="34.00" stroke="#222" stroke-width="1.0"/>
<line x1="147.20" y1="28.43" x2="148.50" y2="28.43" stroke="#333" stroke-width="0.7"/>
<line x1="146.30" y1="52.50" x2="148.50" y2="52.50" stroke="#222" stroke-width="1.0"/>
<line x1="147.20" y1="46.93" x2="148.50" y2="46.93" stroke="#333" stroke-width="0.7"/>
<line x1="147.20" y1="43.67" x2="148.50" y2="43.67" stroke="#333" stroke-width="0.7"/>
<line x1="147.20" y1="41.36" x2="148.50" y2="41.36" stroke="#333" stroke-width="0.7"/>
<line x1="147.20" y1="39.57" x2="148.50" y2="39.57" stroke="#333" stroke-width="0.7"/>
<line x1="147.20" y1="38.10" x2="148.50" y2="38.10" stroke="#333" stroke-width="0.7"/>
<line x1="147.20" y1="36.87" x2="148.50" y2="36.87" stroke="#333" stroke-width="0.7"/>
<line x1="147.20" y1="35.79" x2="148.50" y2="35.79" stroke="#333" stroke-width="0.7"/>
<line x1="147.20" y1="34.85" x2="148.50" y2="34.85" stroke="#333" stroke-width="0.7"/>
<line x1="146.30" y1="71.00" x2="148.50" y2="71.00" stroke="#222" stroke-width="1.0"/>
<line x1="147.20" y1="65.43" x2="148.50" y2="65.43" stroke="#333" stroke-width="0.7"/>
<line x1="147.20" y1="62.17" x2="148.50" y2="62.17" stroke="#333" stroke-width="0.7"/>
<line x1="147.20" y1="59.86" x2="148.50" y2="59.86" stroke="#333" stroke-width="0.7"/>
<line x1="147.20" y1="58.07" x2="148.50" y2="58.07" stroke="#333" stroke-width="0.7"/>
<line x1="147.20" y1="56.60" x2="148.50" y2="56.60" stroke="#333" stroke-width="0.7"/>
<line x1="147.20" y1="55.37" x2="148.50" y2="55.37" stroke="#333" stroke-width="0.7"/>
<line x1="147.20" y1="54.29" x2="148.50" y2="54.29" stroke="#333" stroke-width="0.7"/>
<line x1="147.20" y1="53.35" x2="148.50" y2="53.35" stroke="#333" stroke-width="0.7"/>
<line x1="146.30" y1="91.00" x2="148.50" y2="91.00" stroke="#222" stroke-width="1.0"/>
<line x1="147.20" y1="85.00" x2="148.50" y2="85.00" stroke="#333" stroke-width="0.7"/>
<line x1="147.20" y1="80.00" x2="148.50" y2="80.00" stroke="#333" stroke-width="0.7"/>
<line x1="147.20" y1="97.00" x2="148.50" y2="97.00" stroke="#333" stroke-width="0.7"/>
<line x1="147.20" y1="76.00" x2="148.50" y2="76.00" stroke="#333" stroke-width="0.7"/>
<text x="139.90" y="36.20" font-size="6.2" text-anchor="end" textLength="6.00" lengthAdjust="spacingAndGlyphs" fill="#231f20">10</text>
<text x="140.60" y="34.10" font-size="4.0" text-anchor="start" textLength="2.22" lengthAdjust="spacingAndGlyphs" fill="#333">5</text>
<text x="139.90" y="54.70" font-size="6.2" text-anchor="end" textLength="6.00" lengthAdjust="spacingAndGlyphs" fill="#231f20">10</text>
<text x="140.60" y="52.60" font-size="4.0" text-anchor="start" textLength="2.22" lengthAdjust="spacingAndGlyphs" fill="#333">4</text>
<text x="139.90" y="73.20" font-size="6.2" text-anchor="end" textLength="6.00" lengthAdjust="spacingAndGlyphs" fill="#231f20">10</text>
<text x="140.60" y="71.10" font-size="4.0" text-anchor="start" textLength="2.22" lengthAdjust="spacingAndGlyphs" fill="#333">3</text>
<text x="142.20" y="93.20" font-size="6.2" text-anchor="end" textLength="3.28" lengthAdjust="spacingAndGlyphs" fill="#231f20">0</text>
<line x1="181.30" y1="98.50" x2="181.30" y2="100.70" stroke="#222" stroke-width="1.0"/>
<line x1="187.68" y1="98.50" x2="187.68" y2="99.80" stroke="#333" stroke-width="0.7"/>
<line x1="191.41" y1="98.50" x2="191.41" y2="99.80" stroke="#333" stroke-width="0.7"/>
<line x1="194.06" y1="98.50" x2="194.06" y2="99.80" stroke="#333" stroke-width="0.7"/>
<line x1="196.12" y1="98.50" x2="196.12" y2="99.80" stroke="#333" stroke-width="0.7"/>
<line x1="197.80" y1="98.50" x2="197.80" y2="99.80" stroke="#333" stroke-width="0.7"/>
<line x1="199.22" y1="98.50" x2="199.22" y2="99.80" stroke="#333" stroke-width="0.7"/>
<line x1="200.45" y1="98.50" x2="200.45" y2="99.80" stroke="#333" stroke-width="0.7"/>
<line x1="201.53" y1="98.50" x2="201.53" y2="99.80" stroke="#333" stroke-width="0.7"/>
<line x1="202.10" y1="98.50" x2="202.10" y2="100.70" stroke="#222" stroke-width="1.0"/>
<line x1="208.48" y1="98.50" x2="208.48" y2="99.80" stroke="#333" stroke-width="0.7"/>
<line x1="212.21" y1="98.50" x2="212.21" y2="99.80" stroke="#333" stroke-width="0.7"/>
<line x1="214.86" y1="98.50" x2="214.86" y2="99.80" stroke="#333" stroke-width="0.7"/>
<line x1="216.92" y1="98.50" x2="216.92" y2="99.80" stroke="#333" stroke-width="0.7"/>
<line x1="218.60" y1="98.50" x2="218.60" y2="99.80" stroke="#333" stroke-width="0.7"/>
<line x1="220.02" y1="98.50" x2="220.02" y2="99.80" stroke="#333" stroke-width="0.7"/>
<line x1="221.25" y1="98.50" x2="221.25" y2="99.80" stroke="#333" stroke-width="0.7"/>
<line x1="222.33" y1="98.50" x2="222.33" y2="99.80" stroke="#333" stroke-width="0.7"/>
<line x1="223.50" y1="98.50" x2="223.50" y2="100.70" stroke="#222" stroke-width="1.0"/>
<line x1="229.88" y1="98.50" x2="229.88" y2="99.80" stroke="#333" stroke-width="0.7"/>
<line x1="233.61" y1="98.50" x2="233.61" y2="99.80" stroke="#333" stroke-width="0.7"/>
<line x1="157.80" y1="98.50" x2="157.80" y2="100.70" stroke="#222" stroke-width="1.0"/>
<line x1="151.80" y1="98.50" x2="151.80" y2="99.80" stroke="#333" stroke-width="0.7"/>
<line x1="163.80" y1="98.50" x2="163.80" y2="99.80" stroke="#333" stroke-width="0.7"/>
<line x1="168.80" y1="98.50" x2="168.80" y2="99.80" stroke="#333" stroke-width="0.7"/>
<line x1="172.80" y1="98.50" x2="172.80" y2="99.80" stroke="#333" stroke-width="0.7"/>
<line x1="176.30" y1="98.50" x2="176.30" y2="99.80" stroke="#333" stroke-width="0.7"/>
<text x="180.85" y="108.60" font-size="6.3" text-anchor="middle" textLength="6.50" lengthAdjust="spacingAndGlyphs" fill="#231f20">10</text>
<text x="184.35" y="106.40" font-size="4.0" text-anchor="start" textLength="2.22" lengthAdjust="spacingAndGlyphs" fill="#333">3</text>
<text x="201.90" y="108.60" font-size="6.3" text-anchor="middle" textLength="6.50" lengthAdjust="spacingAndGlyphs" fill="#231f20">10</text>
<text x="205.40" y="106.40" font-size="4.0" text-anchor="start" textLength="2.22" lengthAdjust="spacingAndGlyphs" fill="#333">4</text>
<text x="224.00" y="108.60" font-size="6.3" text-anchor="middle" textLength="6.50" lengthAdjust="spacingAndGlyphs" fill="#231f20">10</text>
<text x="227.50" y="106.40" font-size="4.0" text-anchor="start" textLength="2.22" lengthAdjust="spacingAndGlyphs" fill="#333">5</text>
<text x="158.10" y="108.60" font-size="6.3" text-anchor="middle" textLength="3.33" lengthAdjust="spacingAndGlyphs" fill="#231f20">0</text>
<text x="191.10" y="120.20" font-size="8.6" font-weight="bold" text-anchor="middle" textLength="25.20" lengthAdjust="spacingAndGlyphs" fill="#231f20">Annexin-V</text>
<text transform="translate(128.70,59.60) rotate(-90)" x="0" y="0" font-size="8.4" font-weight="bold" text-anchor="middle" textLength="4.80" lengthAdjust="spacingAndGlyphs" fill="#231f20">PI</text>
<text x="205.00" y="33.50" font-size="6.1" text-anchor="start" textLength="7.46" lengthAdjust="spacingAndGlyphs" fill="#2a2a2a">LA</text>
<text x="205.00" y="41.00" font-size="6.1" text-anchor="start" textLength="26.45" lengthAdjust="spacingAndGlyphs" fill="#2a2a2a">%P:42.32</text>
<text x="150.30" y="74.50" font-size="6.1" text-anchor="start" textLength="11.19" lengthAdjust="spacingAndGlyphs" fill="#2a2a2a">Live</text>
<text x="150.30" y="81.90" font-size="6.1" text-anchor="start" textLength="26.45" lengthAdjust="spacingAndGlyphs" fill="#2a2a2a">%P:36.48</text>
<text x="208.40" y="87.90" font-size="6.1" text-anchor="start" textLength="8.14" lengthAdjust="spacingAndGlyphs" fill="#2a2a2a">EA</text>
<text x="208.40" y="95.70" font-size="6.1" text-anchor="start" textLength="23.06" lengthAdjust="spacingAndGlyphs" fill="#2a2a2a">%P:6.68</text>
<g clip-path="url(#c3)">
<path d="M324.30,90.00 324.27,99.96 324.19,102.13 324.05,103.59 323.85,104.72 323.60,105.64 323.28,106.41 322.89,107.06 322.44,107.63 321.91,108.11 321.29,108.53 320.57,108.89 319.74,109.19 318.76,109.45 317.59,109.65 316.16,109.80 314.30,109.91 311.55,109.98 298.90,110.00 286.25,109.98 283.50,109.91 281.64,109.80 280.21,109.65 279.04,109.45 278.06,109.19 277.23,108.89 276.51,108.53 275.89,108.11 275.36,107.63 274.91,107.06 274.52,106.41 274.20,105.64 273.95,104.72 273.75,103.59 273.61,102.13 273.53,99.96 273.50,90.00 273.53,80.04 273.61,77.87 273.75,76.41 273.95,75.28 274.20,74.36 274.52,73.59 274.91,72.94 275.36,72.37 275.89,71.89 276.51,71.47 277.23,71.11 278.06,70.81 279.04,70.55 280.21,70.35 281.64,70.20 283.50,70.09 286.25,70.02 298.90,70.00 311.55,70.02 314.30,70.09 316.16,70.20 317.59,70.35 318.76,70.55 319.74,70.81 320.57,71.11 321.29,71.47 321.91,71.89 322.44,72.37 322.89,72.94 323.28,73.59 323.60,74.36 323.85,75.28 324.05,76.41 324.19,77.87 324.27,80.04Z" fill="#2d62f0"/>
<path d="M286.00,93.00 285.99,98.02 285.94,100.08 285.87,101.65 285.77,102.94 285.64,104.05 285.48,105.02 285.29,105.87 285.06,106.63 284.81,107.30 284.51,107.88 284.18,108.39 283.80,108.82 283.38,109.18 282.89,109.48 282.32,109.71 281.63,109.87 280.71,109.97 278.50,110.00 276.29,109.97 275.37,109.87 274.68,109.71 274.11,109.48 273.62,109.18 273.20,108.82 272.82,108.39 272.49,107.88 272.19,107.30 271.94,106.63 271.71,105.87 271.52,105.02 271.36,104.05 271.23,102.94 271.13,101.65 271.06,100.08 271.01,98.02 271.00,93.00 271.01,87.98 271.06,85.92 271.13,84.35 271.23,83.06 271.36,81.95 271.52,80.98 271.71,80.13 271.94,79.37 272.19,78.70 272.49,78.12 272.82,77.61 273.20,77.18 273.62,76.82 274.11,76.52 274.68,76.29 275.37,76.13 276.29,76.03 278.50,76.00 280.71,76.03 281.63,76.13 282.32,76.29 282.89,76.52 283.38,76.82 283.80,77.18 284.18,77.61 284.51,78.12 284.81,78.70 285.06,79.37 285.29,80.13 285.48,80.98 285.64,81.95 285.77,83.06 285.87,84.35 285.94,85.92 285.99,87.98Z" fill="#2d62f0"/>
<path d="M323.20,90.00 323.18,99.46 323.10,101.52 322.98,102.91 322.81,103.98 322.58,104.86 322.30,105.59 321.96,106.21 321.56,106.75 321.09,107.21 320.55,107.61 319.92,107.95 319.18,108.23 318.32,108.47 317.30,108.67 316.04,108.81 314.40,108.92 311.98,108.98 300.85,109.00 289.72,108.98 287.30,108.92 285.66,108.81 284.40,108.67 283.38,108.47 282.52,108.23 281.78,107.95 281.15,107.61 280.61,107.21 280.14,106.75 279.74,106.21 279.40,105.59 279.12,104.86 278.89,103.98 278.72,102.91 278.60,101.52 278.52,99.46 278.50,90.00 278.52,80.54 278.60,78.48 278.72,77.09 278.89,76.02 279.12,75.14 279.40,74.41 279.74,73.79 280.14,73.25 280.61,72.79 281.15,72.39 281.78,72.05 282.52,71.77 283.38,71.53 284.40,71.33 285.66,71.19 287.30,71.08 289.72,71.02 300.85,71.00 311.98,71.02 314.40,71.08 316.04,71.19 317.30,71.33 318.32,71.53 319.18,71.77 319.92,72.05 320.55,72.39 321.09,72.79 321.56,73.25 321.96,73.79 322.30,74.41 322.58,75.14 322.81,76.02 322.98,77.09 323.10,78.48 323.18,80.54Z" fill="#3d7df5"/>
<path d="M321.80,89.80 321.78,98.86 321.71,100.84 321.60,102.17 321.45,103.20 321.25,104.03 321.00,104.73 320.70,105.33 320.34,105.84 319.92,106.28 319.44,106.67 318.88,106.99 318.22,107.27 317.46,107.50 316.55,107.68 315.43,107.82 313.97,107.92 311.81,107.98 301.90,108.00 291.99,107.98 289.83,107.92 288.37,107.82 287.25,107.68 286.34,107.50 285.58,107.27 284.92,106.99 284.36,106.67 283.88,106.28 283.46,105.84 283.10,105.33 282.80,104.73 282.55,104.03 282.35,103.20 282.20,102.17 282.09,100.84 282.02,98.86 282.00,89.80 282.02,80.74 282.09,78.76 282.20,77.43 282.35,76.40 282.55,75.57 282.80,74.87 283.10,74.27 283.46,73.76 283.88,73.32 284.36,72.93 284.92,72.61 285.58,72.33 286.34,72.10 287.25,71.92 288.37,71.78 289.83,71.68 291.99,71.62 301.90,71.60 311.81,71.62 313.97,71.68 315.43,71.78 316.55,71.92 317.46,72.10 318.22,72.33 318.88,72.61 319.44,72.93 319.92,73.32 320.34,73.76 320.70,74.27 321.00,74.87 321.25,75.57 321.45,76.40 321.60,77.43 321.71,78.76 321.78,80.74Z" fill="#27d8f2"/>
<path d="M319.50,89.30 319.48,97.62 319.42,99.43 319.33,100.65 319.20,101.59 319.02,102.36 318.81,103.00 318.54,103.55 318.24,104.02 317.87,104.43 317.45,104.78 316.97,105.07 316.40,105.33 315.74,105.54 314.95,105.71 313.97,105.84 312.71,105.93 310.84,105.98 302.25,106.00 293.66,105.98 291.79,105.93 290.53,105.84 289.55,105.71 288.76,105.54 288.10,105.33 287.53,105.07 287.05,104.78 286.63,104.43 286.26,104.02 285.96,103.55 285.69,103.00 285.48,102.36 285.30,101.59 285.17,100.65 285.08,99.43 285.02,97.62 285.00,89.30 285.02,80.98 285.08,79.17 285.17,77.95 285.30,77.01 285.48,76.24 285.69,75.60 285.96,75.05 286.26,74.58 286.63,74.17 287.05,73.82 287.53,73.53 288.10,73.27 288.76,73.06 289.55,72.89 290.53,72.76 291.79,72.67 293.66,72.62 302.25,72.60 310.84,72.62 312.71,72.67 313.97,72.76 314.95,72.89 315.74,73.06 316.40,73.27 316.97,73.53 317.45,73.82 317.87,74.17 318.24,74.58 318.54,75.05 318.81,75.60 319.02,76.24 319.20,77.01 319.33,77.95 319.42,79.17 319.48,80.98Z" fill="#5ee83a"/>
</g>
<path d="M340.4,26.1 328.1,26.1 327.1,28.1 326.9,29.6 326.4,30.6 326.4,31.4 326.1,31.6 326.1,32.1 325.4,33.9 325.4,34.6 325.1,34.9 325.1,38.6 324.9,38.9 324.6,44.1 324.4,44.4 324.4,48.1 324.1,48.4 324.1,55.4 324.4,55.6 324.4,58.4 324.6,58.6 324.9,61.6 325.1,61.9 325.6,65.4 326.1,66.6 326.1,68.1 326.4,68.4 326.4,75.1 326.6,75.4 326.6,77.4 326.9,77.6 326.9,78.6 327.1,78.9 327.4,80.4 328.1,81.9 329.9,83.4 331.1,83.4 331.6,83.1 332.9,81.9 333.6,80.4 333.6,79.9 334.1,78.9 334.1,78.1 334.4,77.9 334.4,76.6 334.6,76.4 334.6,74.4 334.9,74.1 335.1,71.1 335.4,70.9 335.6,69.6 337.1,66.6 337.6,66.1 339.6,61.9 339.6,61.4 340.6,58.9 341.1,56.1 341.4,55.9 341.4,54.6 341.6,54.4 341.6,53.1 341.9,52.9 341.9,50.9 342.1,50.6 342.1,38.6 341.9,38.4 341.9,33.9 342.1,33.6 342.6,31.1 341.9,29.4 341.4,28.9 340.6,27.4Z" fill="#2d62f0" fill-rule="evenodd"/>
<path d="M337.4,26.1 330.9,26.1 329.4,28.1 328.6,29.6 328.6,30.1 326.6,34.1 326.6,38.6 326.4,38.9 326.1,43.1 325.9,43.4 325.9,46.4 325.6,46.6 325.6,55.1 325.9,55.4 325.9,57.1 326.1,57.4 326.1,58.6 326.4,58.9 326.6,60.9 326.9,61.1 327.4,63.1 327.9,63.9 327.9,64.4 329.6,67.9 329.9,69.4 330.1,69.6 330.1,71.1 329.9,71.4 329.9,72.6 329.6,72.9 329.6,75.1 329.9,75.4 329.9,76.1 330.4,76.6 330.6,76.6 331.4,75.6 331.4,70.1 331.6,69.9 331.6,69.4 335.6,65.1 338.1,61.4 338.1,60.9 338.9,59.6 338.9,59.1 339.9,56.6 340.1,54.6 340.4,54.4 340.4,53.4 340.6,53.1 340.6,51.4 340.9,51.1 340.9,40.9 340.6,40.6 340.4,34.4 341.1,32.6 341.1,30.9 338.9,28.4Z" fill="#3d8af5" fill-rule="evenodd"/>
<path d="M334.9,26.6 332.9,26.6 331.9,27.1 330.1,28.9 329.1,30.9 328.1,32.1 327.1,34.4 327.1,36.9 327.4,37.4 327.1,37.6 327.1,39.6 326.9,39.9 326.9,41.6 326.6,41.9 326.4,47.9 326.1,48.1 326.1,53.1 326.4,53.4 326.4,55.9 326.6,56.1 326.6,57.4 326.9,57.6 327.1,59.6 328.6,63.1 330.6,65.4 331.1,65.4 331.4,65.6 332.4,65.6 334.1,64.9 335.9,63.4 337.1,61.6 338.6,58.6 338.6,58.1 339.4,56.4 339.4,55.6 339.9,54.4 339.9,53.1 340.1,52.9 340.1,51.4 340.4,51.1 340.4,41.9 340.1,41.6 340.1,39.1 339.9,38.9 339.6,34.9 340.6,32.6 340.6,31.1 339.4,29.6 338.1,28.9 336.6,27.4Z" fill="#27d8f2" fill-rule="evenodd"/>
<path d="M335.4,28.6 333.1,28.6 331.9,29.1 330.1,30.6 330.1,30.9 328.9,32.1 327.9,33.9 327.9,36.6 328.1,36.9 328.1,37.9 327.9,38.1 327.9,39.6 327.6,39.9 327.6,41.4 327.4,41.6 327.1,46.6 326.9,46.9 326.9,53.6 327.1,53.9 327.4,56.9 327.6,57.1 327.6,57.9 327.9,58.1 327.9,58.9 328.4,59.6 328.4,60.1 329.4,61.9 330.4,62.9 331.4,63.4 333.6,63.4 334.6,62.9 336.6,60.9 338.1,58.1 338.1,57.6 339.1,55.1 339.1,54.1 339.4,53.9 339.4,52.9 339.6,52.6 339.6,50.9 339.9,50.6 339.9,43.4 339.6,43.1 339.6,40.6 339.4,40.4 339.4,38.6 339.1,38.4 338.9,35.1 339.9,33.1 340.1,31.4 339.9,30.9 338.6,29.9Z" fill="#3be33b" fill-rule="evenodd"/>
<path d="M334.1,37.9 332.9,38.1 331.4,39.9 331.4,40.4 330.9,41.1 330.9,41.6 330.4,42.6 330.4,43.6 330.1,43.9 330.1,44.9 329.9,45.1 329.9,46.4 329.6,46.6 329.6,52.4 329.9,52.6 330.1,54.6 331.4,56.9 332.9,57.9 334.1,57.9 334.6,57.6 336.4,55.6 337.4,52.9 337.6,49.9 337.9,49.6 337.9,47.1 337.6,46.9 337.6,44.9 337.4,44.6 337.1,42.4 336.1,39.6 334.9,38.1 334.4,38.1ZM337.9,32.1 337.1,31.4 336.4,31.4 336.1,31.1 333.6,31.4 331.1,32.6 330.4,33.6 330.4,34.6 330.9,35.4 332.4,36.1 333.6,36.1 334.9,35.6 336.9,34.1 337.6,33.1Z" fill="#f2ee1a" fill-rule="evenodd"/>
<path d="M334.4,42.1 333.4,42.4 332.4,43.4 331.4,45.6 331.1,47.9 330.9,48.1 330.9,51.1 331.1,51.4 331.1,52.4 332.1,54.6 333.1,55.4 334.4,55.4 335.6,54.1 336.1,53.1 336.4,51.4 336.6,51.1 336.6,46.1 336.4,45.9 336.4,45.1 335.6,43.1ZM336.6,32.4 335.6,31.9 333.6,32.1 332.1,32.9 331.6,33.6 331.6,34.1 332.4,34.6 334.1,34.6 334.4,34.4 334.9,34.4 336.4,33.4Z" fill="#ff7a10" fill-rule="evenodd"/>
<path d="M334.6,44.1 333.9,44.1 332.9,44.9 332.1,46.4 331.9,48.1 331.6,48.4 331.6,50.9 331.9,51.1 331.9,51.9 332.4,53.1 333.4,54.1 334.1,54.1 335.1,53.4 336.1,50.6 336.1,47.1 335.9,46.9 335.6,45.4ZM335.9,32.6 335.6,32.4 334.1,32.4 332.6,33.1 332.4,33.6 332.9,34.1 334.1,34.1 335.4,33.6 335.9,33.1Z" fill="#f01414" fill-rule="evenodd"/>
<text x="313.00" y="10.00" font-size="7.8" text-anchor="middle" textLength="78.60" lengthAdjust="spacingAndGlyphs" fill="#231f20">miR-146b-5p inhibitor</text>
<text x="313.00" y="19.60" font-size="7.8" text-anchor="middle" textLength="22.80" lengthAdjust="spacingAndGlyphs" fill="#231f20">+IL-23</text>
<rect x="270.50" y="25.50" width="85.00" height="73.00" fill="none" stroke="#1a1a1a" stroke-width="1.0"/>
<line x1="324.50" y1="25.50" x2="324.50" y2="98.50" stroke="#1a1a1a" stroke-width="1.0"/>
<line x1="270.50" y1="68.50" x2="355.50" y2="68.50" stroke="#1a1a1a" stroke-width="1.0"/>
<line x1="268.30" y1="34.00" x2="270.50" y2="34.00" stroke="#222" stroke-width="1.0"/>
<line x1="269.20" y1="28.43" x2="270.50" y2="28.43" stroke="#333" stroke-width="0.7"/>
<line x1="268.30" y1="52.50" x2="270.50" y2="52.50" stroke="#222" stroke-width="1.0"/>
<line x1="269.20" y1="46.93" x2="270.50" y2="46.93" stroke="#333" stroke-width="0.7"/>
<line x1="269.20" y1="43.67" x2="270.50" y2="43.67" stroke="#333" stroke-width="0.7"/>
<line x1="269.20" y1="41.36" x2="270.50" y2="41.36" stroke="#333" stroke-width="0.7"/>
<line x1="269.20" y1="39.57" x2="270.50" y2="39.57" stroke="#333" stroke-width="0.7"/>
<line x1="269.20" y1="38.10" x2="270.50" y2="38.10" stroke="#333" stroke-width="0.7"/>
<line x1="269.20" y1="36.87" x2="270.50" y2="36.87" stroke="#333" stroke-width="0.7"/>
<line x1="269.20" y1="35.79" x2="270.50" y2="35.79" stroke="#333" stroke-width="0.7"/>
<line x1="269.20" y1="34.85" x2="270.50" y2="34.85" stroke="#333" stroke-width="0.7"/>
<line x1="268.30" y1="71.00" x2="270.50" y2="71.00" stroke="#222" stroke-width="1.0"/>
<line x1="269.20" y1="65.43" x2="270.50" y2="65.43" stroke="#333" stroke-width="0.7"/>
<line x1="269.20" y1="62.17" x2="270.50" y2="62.17" stroke="#333" stroke-width="0.7"/>
<line x1="269.20" y1="59.86" x2="270.50" y2="59.86" stroke="#333" stroke-width="0.7"/>
<line x1="269.20" y1="58.07" x2="270.50" y2="58.07" stroke="#333" stroke-width="0.7"/>
<line x1="269.20" y1="56.60" x2="270.50" y2="56.60" stroke="#333" stroke-width="0.7"/>
<line x1="269.20" y1="55.37" x2="270.50" y2="55.37" stroke="#333" stroke-width="0.7"/>
<line x1="269.20" y1="54.29" x2="270.50" y2="54.29" stroke="#333" stroke-width="0.7"/>
<line x1="269.20" y1="53.35" x2="270.50" y2="53.35" stroke="#333" stroke-width="0.7"/>
<line x1="268.30" y1="91.00" x2="270.50" y2="91.00" stroke="#222" stroke-width="1.0"/>
<line x1="269.20" y1="85.00" x2="270.50" y2="85.00" stroke="#333" stroke-width="0.7"/>
<line x1="269.20" y1="80.00" x2="270.50" y2="80.00" stroke="#333" stroke-width="0.7"/>
<line x1="269.20" y1="97.00" x2="270.50" y2="97.00" stroke="#333" stroke-width="0.7"/>
<line x1="269.20" y1="76.00" x2="270.50" y2="76.00" stroke="#333" stroke-width="0.7"/>
<text x="261.90" y="36.20" font-size="6.2" text-anchor="end" textLength="6.00" lengthAdjust="spacingAndGlyphs" fill="#231f20">10</text>
<text x="262.60" y="34.10" font-size="4.0" text-anchor="start" textLength="2.22" lengthAdjust="spacingAndGlyphs" fill="#333">5</text>
<text x="261.90" y="54.70" font-size="6.2" text-anchor="end" textLength="6.00" lengthAdjust="spacingAndGlyphs" fill="#231f20">10</text>
<text x="262.60" y="52.60" font-size="4.0" text-anchor="start" textLength="2.22" lengthAdjust="spacingAndGlyphs" fill="#333">4</text>
<text x="261.90" y="73.20" font-size="6.2" text-anchor="end" textLength="6.00" lengthAdjust="spacingAndGlyphs" fill="#231f20">10</text>
<text x="262.60" y="71.10" font-size="4.0" text-anchor="start" textLength="2.22" lengthAdjust="spacingAndGlyphs" fill="#333">3</text>
<text x="264.20" y="93.20" font-size="6.2" text-anchor="end" textLength="3.28" lengthAdjust="spacingAndGlyphs" fill="#231f20">0</text>
<line x1="303.30" y1="98.50" x2="303.30" y2="100.70" stroke="#222" stroke-width="1.0"/>
<line x1="309.68" y1="98.50" x2="309.68" y2="99.80" stroke="#333" stroke-width="0.7"/>
<line x1="313.41" y1="98.50" x2="313.41" y2="99.80" stroke="#333" stroke-width="0.7"/>
<line x1="316.06" y1="98.50" x2="316.06" y2="99.80" stroke="#333" stroke-width="0.7"/>
<line x1="318.12" y1="98.50" x2="318.12" y2="99.80" stroke="#333" stroke-width="0.7"/>
<line x1="319.80" y1="98.50" x2="319.80" y2="99.80" stroke="#333" stroke-width="0.7"/>
<line x1="321.22" y1="98.50" x2="321.22" y2="99.80" stroke="#333" stroke-width="0.7"/>
<line x1="322.45" y1="98.50" x2="322.45" y2="99.80" stroke="#333" stroke-width="0.7"/>
<line x1="323.53" y1="98.50" x2="323.53" y2="99.80" stroke="#333" stroke-width="0.7"/>
<line x1="324.10" y1="98.50" x2="324.10" y2="100.70" stroke="#222" stroke-width="1.0"/>
<line x1="330.48" y1="98.50" x2="330.48" y2="99.80" stroke="#333" stroke-width="0.7"/>
<line x1="334.21" y1="98.50" x2="334.21" y2="99.80" stroke="#333" stroke-width="0.7"/>
<line x1="336.86" y1="98.50" x2="336.86" y2="99.80" stroke="#333" stroke-width="0.7"/>
<line x1="338.92" y1="98.50" x2="338.92" y2="99.80" stroke="#333" stroke-width="0.7"/>
<line x1="340.60" y1="98.50" x2="340.60" y2="99.80" stroke="#333" stroke-width="0.7"/>
<line x1="342.02" y1="98.50" x2="342.02" y2="99.80" stroke="#333" stroke-width="0.7"/>
<line x1="343.25" y1="98.50" x2="343.25" y2="99.80" stroke="#333" stroke-width="0.7"/>
<line x1="344.33" y1="98.50" x2="344.33" y2="99.80" stroke="#333" stroke-width="0.7"/>
<line x1="345.50" y1="98.50" x2="345.50" y2="100.70" stroke="#222" stroke-width="1.0"/>
<line x1="351.88" y1="98.50" x2="351.88" y2="99.80" stroke="#333" stroke-width="0.7"/>
<line x1="279.80" y1="98.50" x2="279.80" y2="100.70" stroke="#222" stroke-width="1.0"/>
<line x1="273.80" y1="98.50" x2="273.80" y2="99.80" stroke="#333" stroke-width="0.7"/>
<line x1="285.80" y1="98.50" x2="285.80" y2="99.80" stroke="#333" stroke-width="0.7"/>
<line x1="290.80" y1="98.50" x2="290.80" y2="99.80" stroke="#333" stroke-width="0.7"/>
<line x1="294.80" y1="98.50" x2="294.80" y2="99.80" stroke="#333" stroke-width="0.7"/>
<line x1="298.30" y1="98.50" x2="298.30" y2="99.80" stroke="#333" stroke-width="0.7"/>
<text x="302.85" y="108.60" font-size="6.3" text-anchor="middle" textLength="6.50" lengthAdjust="spacingAndGlyphs" fill="#231f20">10</text>
<text x="306.35" y="106.40" font-size="4.0" text-anchor="start" textLength="2.22" lengthAdjust="spacingAndGlyphs" fill="#333">3</text>
<text x="323.90" y="108.60" font-size="6.3" text-anchor="middle" textLength="6.50" lengthAdjust="spacingAndGlyphs" fill="#231f20">10</text>
<text x="327.40" y="106.40" font-size="4.0" text-anchor="start" textLength="2.22" lengthAdjust="spacingAndGlyphs" fill="#333">4</text>
<text x="346.00" y="108.60" font-size="6.3" text-anchor="middle" textLength="6.50" lengthAdjust="spacingAndGlyphs" fill="#231f20">10</text>
<text x="349.50" y="106.40" font-size="4.0" text-anchor="start" textLength="2.22" lengthAdjust="spacingAndGlyphs" fill="#333">5</text>
<text x="280.10" y="108.60" font-size="6.3" text-anchor="middle" textLength="3.33" lengthAdjust="spacingAndGlyphs" fill="#231f20">0</text>
<text x="313.10" y="120.20" font-size="8.6" font-weight="bold" text-anchor="middle" textLength="25.20" lengthAdjust="spacingAndGlyphs" fill="#231f20">Annexin-V</text>
<text transform="translate(250.70,59.60) rotate(-90)" x="0" y="0" font-size="8.4" font-weight="bold" text-anchor="middle" textLength="4.80" lengthAdjust="spacingAndGlyphs" fill="#231f20">PI</text>
<text x="326.20" y="32.00" font-size="6.1" text-anchor="start" textLength="7.46" lengthAdjust="spacingAndGlyphs" fill="#2a2a2a">LA</text>
<text x="326.20" y="40.40" font-size="6.1" text-anchor="start" textLength="26.45" lengthAdjust="spacingAndGlyphs" fill="#2a2a2a">%P:41.81</text>
<text x="271.60" y="75.50" font-size="6.1" text-anchor="start" textLength="11.19" lengthAdjust="spacingAndGlyphs" fill="#2a2a2a">Live</text>
<text x="271.60" y="81.90" font-size="6.1" text-anchor="start" textLength="26.45" lengthAdjust="spacingAndGlyphs" fill="#2a2a2a">%P:31.44</text>
<text x="330.00" y="86.90" font-size="6.1" text-anchor="start" textLength="7.46" lengthAdjust="spacingAndGlyphs" fill="#2a2a2a">LA</text>
<text x="330.00" y="94.50" font-size="6.1" text-anchor="start" textLength="23.06" lengthAdjust="spacingAndGlyphs" fill="#2a2a2a">%P:5.27</text>
<g clip-path="url(#c4)">
<path d="M205.30,221.00 205.28,230.46 205.23,232.52 205.13,233.91 205.00,234.98 204.83,235.86 204.62,236.59 204.36,237.21 204.06,237.75 203.71,238.21 203.30,238.61 202.82,238.95 202.26,239.23 201.61,239.47 200.84,239.67 199.89,239.81 198.65,239.92 196.82,239.98 188.40,240.00 179.98,239.98 178.15,239.92 176.91,239.81 175.96,239.67 175.19,239.47 174.54,239.23 173.98,238.95 173.50,238.61 173.09,238.21 172.74,237.75 172.44,237.21 172.18,236.59 171.97,235.86 171.80,234.98 171.67,233.91 171.57,232.52 171.52,230.46 171.50,221.00 171.52,211.54 171.57,209.48 171.67,208.09 171.80,207.02 171.97,206.14 172.18,205.41 172.44,204.79 172.74,204.25 173.09,203.79 173.50,203.39 173.98,203.05 174.54,202.77 175.19,202.53 175.96,202.33 176.91,202.19 178.15,202.08 179.98,202.02 188.40,202.00 196.82,202.02 198.65,202.08 199.89,202.19 200.84,202.33 201.61,202.53 202.26,202.77 202.82,203.05 203.30,203.39 203.71,203.79 204.06,204.25 204.36,204.79 204.62,205.41 204.83,206.14 205.00,207.02 205.13,208.09 205.23,209.48 205.28,211.54Z" fill="#1f1fe8"/>
<path d="M180.00,225.00 179.99,229.43 179.96,231.25 179.91,232.63 179.83,233.77 179.74,234.75 179.62,235.61 179.48,236.36 179.31,237.03 179.12,237.61 178.91,238.13 178.67,238.58 178.39,238.96 178.08,239.28 177.72,239.54 177.30,239.74 176.79,239.89 176.12,239.97 174.50,240.00 172.88,239.97 172.21,239.89 171.70,239.74 171.28,239.54 170.92,239.28 170.61,238.96 170.33,238.58 170.09,238.13 169.88,237.61 169.69,237.03 169.52,236.36 169.38,235.61 169.26,234.75 169.17,233.77 169.09,232.63 169.04,231.25 169.01,229.43 169.00,225.00 169.01,220.57 169.04,218.75 169.09,217.37 169.17,216.23 169.26,215.25 169.38,214.39 169.52,213.64 169.69,212.97 169.88,212.39 170.09,211.87 170.33,211.42 170.61,211.04 170.92,210.72 171.28,210.46 171.70,210.26 172.21,210.11 172.88,210.03 174.50,210.00 176.12,210.03 176.79,210.11 177.30,210.26 177.72,210.46 178.08,210.72 178.39,211.04 178.67,211.42 178.91,211.87 179.12,212.39 179.31,212.97 179.48,213.64 179.62,214.39 179.74,215.25 179.83,216.23 179.91,217.37 179.96,218.75 179.99,220.57Z" fill="#1f1fe8"/>
<path d="M203.60,221.20 203.58,230.06 203.53,231.99 203.45,233.30 203.34,234.30 203.19,235.12 203.00,235.80 202.77,236.39 202.51,236.89 202.20,237.32 201.83,237.69 201.41,238.01 200.92,238.28 200.35,238.51 199.67,238.69 198.83,238.82 197.74,238.92 196.12,238.98 188.70,239.00 181.28,238.98 179.66,238.92 178.57,238.82 177.73,238.69 177.05,238.51 176.48,238.28 175.99,238.01 175.57,237.69 175.20,237.32 174.89,236.89 174.63,236.39 174.40,235.80 174.21,235.12 174.06,234.30 173.95,233.30 173.87,231.99 173.82,230.06 173.80,221.20 173.82,212.34 173.87,210.41 173.95,209.10 174.06,208.10 174.21,207.28 174.40,206.60 174.63,206.01 174.89,205.51 175.20,205.08 175.57,204.71 175.99,204.39 176.48,204.12 177.05,203.89 177.73,203.71 178.57,203.58 179.66,203.48 181.28,203.42 188.70,203.40 196.12,203.42 197.74,203.48 198.83,203.58 199.67,203.71 200.35,203.89 200.92,204.12 201.41,204.39 201.83,204.71 202.20,205.08 202.51,205.51 202.77,206.01 203.00,206.60 203.19,207.28 203.34,208.10 203.45,209.10 203.53,210.41 203.58,212.34Z" fill="#3d7df5"/>
<path d="M202.00,221.00 201.99,229.47 201.94,231.31 201.87,232.55 201.76,233.51 201.63,234.29 201.46,234.95 201.25,235.50 201.01,235.98 200.73,236.40 200.40,236.75 200.02,237.06 199.57,237.32 199.06,237.53 198.44,237.70 197.68,237.83 196.69,237.93 195.22,237.98 188.50,238.00 181.78,237.98 180.31,237.93 179.32,237.83 178.56,237.70 177.94,237.53 177.43,237.32 176.98,237.06 176.60,236.75 176.27,236.40 175.99,235.98 175.75,235.50 175.54,234.95 175.37,234.29 175.24,233.51 175.13,232.55 175.06,231.31 175.01,229.47 175.00,221.00 175.01,212.53 175.06,210.69 175.13,209.45 175.24,208.49 175.37,207.71 175.54,207.05 175.75,206.50 175.99,206.02 176.27,205.60 176.60,205.25 176.98,204.94 177.43,204.68 177.94,204.47 178.56,204.30 179.32,204.17 180.31,204.07 181.78,204.02 188.50,204.00 195.22,204.02 196.69,204.07 197.68,204.17 198.44,204.30 199.06,204.47 199.57,204.68 200.02,204.94 200.40,205.25 200.73,205.60 201.01,206.02 201.25,206.50 201.46,207.05 201.63,207.71 201.76,208.49 201.87,209.45 201.94,210.69 201.99,212.53Z" fill="#27d8f2"/>
<path d="M197.00,220.25 196.99,227.60 196.96,229.19 196.91,230.27 196.85,231.11 196.76,231.78 196.65,232.35 196.52,232.83 196.36,233.25 196.18,233.61 195.96,233.92 195.72,234.18 195.43,234.41 195.09,234.59 194.69,234.74 194.20,234.85 193.56,234.94 192.61,234.98 188.25,235.00 183.89,234.98 182.94,234.94 182.30,234.85 181.81,234.74 181.41,234.59 181.07,234.41 180.78,234.18 180.54,233.92 180.32,233.61 180.14,233.25 179.98,232.83 179.85,232.35 179.74,231.78 179.65,231.11 179.59,230.27 179.54,229.19 179.51,227.60 179.50,220.25 179.51,212.90 179.54,211.31 179.59,210.23 179.65,209.39 179.74,208.72 179.85,208.15 179.98,207.67 180.14,207.25 180.32,206.89 180.54,206.58 180.78,206.32 181.07,206.09 181.41,205.91 181.81,205.76 182.30,205.65 182.94,205.56 183.89,205.52 188.25,205.50 192.61,205.52 193.56,205.56 194.20,205.65 194.69,205.76 195.09,205.91 195.43,206.09 195.72,206.32 195.96,206.58 196.18,206.89 196.36,207.25 196.52,207.67 196.65,208.15 196.76,208.72 196.85,209.39 196.91,210.23 196.96,211.31 196.99,212.90Z" fill="#34ec55"/>
</g>
<path d="M225.9,157.1 210.1,157.1 209.4,159.1 209.4,159.9 208.9,161.1 208.9,162.1 208.4,163.4 208.1,167.1 207.9,167.4 207.9,169.9 207.6,170.1 207.6,172.4 207.4,172.6 207.1,178.1 206.9,178.4 206.6,184.4 206.4,184.6 206.4,193.1 206.6,193.4 206.9,196.1 207.1,196.4 207.1,197.1 207.9,199.1 207.9,200.6 207.4,201.1 206.9,201.1 205.1,201.9 204.1,202.9 204.1,203.9 204.9,204.9 206.1,205.4 207.4,205.4 207.6,205.1 208.6,205.1 209.1,205.4 209.9,206.1 211.4,209.1 211.6,210.4 212.1,211.1 212.1,211.6 212.6,212.6 214.4,214.1 215.1,214.1 216.1,213.6 217.1,212.1 217.1,211.6 217.6,210.6 217.6,209.9 217.9,209.6 217.9,208.6 218.1,208.4 218.4,206.9 218.9,206.1 219.1,204.9 221.1,200.6 221.6,200.1 222.6,198.1 222.6,197.6 223.1,196.9 223.1,196.4 224.1,193.9 224.1,192.9 224.4,192.6 224.4,191.6 224.6,191.4 224.6,190.4 224.9,190.1 224.9,188.6 225.1,188.4 225.1,186.6 225.4,186.4 225.6,181.4 225.9,181.1 225.9,178.6 226.1,178.4 226.1,175.6 226.4,175.4 226.4,172.4 226.6,172.1 226.6,168.9 226.9,168.6 226.9,159.9Z" fill="#1f1fe8" fill-rule="evenodd"/>
<path d="M223.6,157.1 212.4,157.1 211.4,159.1 211.4,159.6 209.9,163.6 209.9,164.9 209.6,165.1 209.6,168.6 209.4,168.9 209.1,173.9 208.9,174.1 208.9,176.9 208.6,177.1 208.6,179.6 208.4,179.9 208.4,182.6 208.1,182.9 208.1,187.6 207.9,187.9 207.9,189.1 208.1,189.4 208.1,192.6 208.4,192.9 208.4,193.9 208.6,194.1 208.6,194.9 208.9,195.1 209.4,197.1 211.6,201.4 211.9,202.9 212.1,203.1 212.1,203.6 213.1,206.1 213.1,206.9 213.4,207.1 213.6,209.9 213.9,210.1 213.9,210.6 214.4,211.1 215.1,211.1 215.6,210.4 215.6,209.4 215.9,209.1 215.9,205.6 216.1,205.4 216.6,203.4 217.9,201.1 220.6,197.6 221.9,195.1 221.9,194.6 222.6,192.9 222.9,191.1 223.1,190.9 223.1,189.6 223.4,189.4 223.4,188.1 223.6,187.9 223.6,186.4 223.9,186.1 223.9,184.4 224.1,184.1 224.1,181.6 224.4,181.4 224.6,175.1 224.9,174.9 224.9,171.4 225.1,171.1 225.1,164.9 225.4,164.6 225.4,160.4Z" fill="#3d7df5" fill-rule="evenodd"/>
<path d="M222.4,157.1 213.6,157.1 211.9,160.1 211.9,160.6 211.4,161.4 211.4,161.9 210.9,162.6 210.6,164.1 210.4,164.4 210.4,168.4 210.1,168.6 209.9,173.6 209.6,173.9 209.6,176.4 209.4,176.6 209.4,179.1 209.1,179.4 209.1,182.1 208.9,182.4 208.9,186.9 208.6,187.1 208.9,191.9 209.1,192.1 209.4,194.4 210.6,197.1 211.6,198.6 213.9,200.9 214.4,201.1 215.1,201.1 216.9,200.1 219.9,197.1 221.6,193.6 221.6,193.1 222.1,192.1 222.1,191.4 222.4,191.1 222.6,188.9 222.9,188.6 223.1,185.6 223.4,185.4 223.4,183.4 223.6,183.1 223.6,180.6 223.9,180.4 224.1,172.9 224.4,172.6 224.4,165.6 224.6,165.4 224.9,161.1 224.1,159.4Z" fill="#27d8f2" fill-rule="evenodd"/>
<path d="M220.1,157.1 215.6,157.1 214.9,157.6 213.4,159.4 212.9,160.6 212.4,161.1 211.6,162.6 211.6,163.1 211.1,164.1 211.1,169.1 210.9,169.4 210.6,174.4 210.4,174.6 210.4,177.1 210.1,177.4 210.1,180.1 209.9,180.4 209.9,183.4 209.6,183.6 209.6,190.4 209.9,190.6 210.1,193.1 211.4,195.9 213.1,197.6 214.4,198.1 216.6,198.1 218.6,196.9 218.6,196.6 219.6,195.6 220.6,193.9 220.6,193.4 221.4,191.9 221.4,191.1 221.6,190.9 221.9,189.1 222.1,188.9 222.1,187.9 222.4,187.6 222.4,186.4 222.6,186.1 222.9,182.1 223.1,181.9 223.1,178.9 223.4,178.6 223.4,173.6 223.6,173.4 223.6,164.6 224.1,163.4 224.1,160.9 223.9,160.4 221.1,157.6Z" fill="#3be33b" fill-rule="evenodd"/>
<path d="M220.6,160.9 217.6,160.9 217.4,161.1 216.6,161.1 214.9,162.1 214.1,162.9 213.6,164.1 214.1,165.4 216.4,167.1 216.1,168.4 215.6,169.1 215.6,169.6 215.1,170.6 214.9,172.4 214.6,172.6 214.4,175.1 214.1,175.4 214.1,176.6 213.9,176.9 213.9,178.4 213.6,178.6 213.6,180.9 213.4,181.1 213.4,186.6 213.6,186.9 213.6,188.1 214.4,190.1 215.9,191.6 217.4,191.6 219.1,189.6 219.1,189.1 219.6,188.4 219.6,187.9 220.1,186.9 220.4,184.9 220.6,184.6 220.6,183.4 220.9,183.1 220.9,180.9 221.1,180.6 221.1,175.6 220.9,175.4 220.9,173.1 220.6,172.9 220.6,171.6 220.4,171.4 220.1,169.4 219.1,167.4 219.1,166.1 220.9,164.4 221.6,163.4 221.6,162.9 221.9,162.6 221.6,161.6Z" fill="#f2ee1a" fill-rule="evenodd"/>
<path d="M218.6,172.9 217.6,172.9 216.6,174.1 216.4,175.1 215.9,175.9 215.9,176.6 215.4,177.9 215.4,178.9 215.1,179.1 215.1,180.9 214.9,181.1 214.9,184.6 215.1,184.9 215.1,186.1 215.4,186.4 215.6,187.6 216.4,188.6 217.6,188.6 218.4,187.9 219.1,186.4 219.4,184.9 219.6,184.6 219.6,183.6 219.9,183.4 219.9,181.9 220.1,181.6 220.1,177.1 219.9,176.9 219.9,175.6 219.6,175.4 219.4,173.9ZM220.6,162.1 220.1,161.6 217.6,161.6 217.4,161.9 216.9,161.9 215.9,162.4 215.1,163.1 214.9,164.1 215.6,164.9 218.1,164.9 218.4,164.6 218.9,164.6 220.6,163.1Z" fill="#ff7a10" fill-rule="evenodd"/>
<path d="M218.4,174.9 217.9,174.9 217.1,175.6 216.1,177.9 215.9,180.1 215.6,180.4 215.6,184.6 215.9,184.9 215.9,185.6 216.9,187.1 217.6,187.1 218.6,185.9 218.6,185.4 219.1,184.4 219.1,183.6 219.4,183.4 219.4,182.1 219.6,181.9 219.6,177.9 219.4,177.6 219.1,175.9ZM220.1,162.4 219.4,161.9 217.1,162.1 215.9,162.9 215.6,164.1 216.1,164.4 218.1,164.4 218.4,164.1 218.9,164.1 219.9,163.4Z" fill="#f01414" fill-rule="evenodd"/>
<text x="191.50" y="139.20" font-size="7.8" text-anchor="middle" textLength="78.30" lengthAdjust="spacingAndGlyphs" fill="#231f20">miR-146b-5p inhibitor</text>
<text x="191.50" y="149.20" font-size="7.8" text-anchor="middle" textLength="43.30" lengthAdjust="spacingAndGlyphs" fill="#231f20">+αIL-23p19</text>
<rect x="148.50" y="156.50" width="86.00" height="72.00" fill="none" stroke="#1a1a1a" stroke-width="1.0"/>
<line x1="206.50" y1="156.50" x2="206.50" y2="228.50" stroke="#1a1a1a" stroke-width="1.0"/>
<line x1="148.50" y1="198.50" x2="234.50" y2="198.50" stroke="#1a1a1a" stroke-width="1.0"/>
<line x1="146.30" y1="165.00" x2="148.50" y2="165.00" stroke="#222" stroke-width="1.0"/>
<line x1="147.20" y1="159.43" x2="148.50" y2="159.43" stroke="#333" stroke-width="0.7"/>
<line x1="146.30" y1="183.50" x2="148.50" y2="183.50" stroke="#222" stroke-width="1.0"/>
<line x1="147.20" y1="177.93" x2="148.50" y2="177.93" stroke="#333" stroke-width="0.7"/>
<line x1="147.20" y1="174.67" x2="148.50" y2="174.67" stroke="#333" stroke-width="0.7"/>
<line x1="147.20" y1="172.36" x2="148.50" y2="172.36" stroke="#333" stroke-width="0.7"/>
<line x1="147.20" y1="170.57" x2="148.50" y2="170.57" stroke="#333" stroke-width="0.7"/>
<line x1="147.20" y1="169.10" x2="148.50" y2="169.10" stroke="#333" stroke-width="0.7"/>
<line x1="147.20" y1="167.87" x2="148.50" y2="167.87" stroke="#333" stroke-width="0.7"/>
<line x1="147.20" y1="166.79" x2="148.50" y2="166.79" stroke="#333" stroke-width="0.7"/>
<line x1="147.20" y1="165.85" x2="148.50" y2="165.85" stroke="#333" stroke-width="0.7"/>
<line x1="146.30" y1="202.00" x2="148.50" y2="202.00" stroke="#222" stroke-width="1.0"/>
<line x1="147.20" y1="196.43" x2="148.50" y2="196.43" stroke="#333" stroke-width="0.7"/>
<line x1="147.20" y1="193.17" x2="148.50" y2="193.17" stroke="#333" stroke-width="0.7"/>
<line x1="147.20" y1="190.86" x2="148.50" y2="190.86" stroke="#333" stroke-width="0.7"/>
<line x1="147.20" y1="189.07" x2="148.50" y2="189.07" stroke="#333" stroke-width="0.7"/>
<line x1="147.20" y1="187.60" x2="148.50" y2="187.60" stroke="#333" stroke-width="0.7"/>
<line x1="147.20" y1="186.37" x2="148.50" y2="186.37" stroke="#333" stroke-width="0.7"/>
<line x1="147.20" y1="185.29" x2="148.50" y2="185.29" stroke="#333" stroke-width="0.7"/>
<line x1="147.20" y1="184.35" x2="148.50" y2="184.35" stroke="#333" stroke-width="0.7"/>
<line x1="146.30" y1="222.00" x2="148.50" y2="222.00" stroke="#222" stroke-width="1.0"/>
<line x1="147.20" y1="216.00" x2="148.50" y2="216.00" stroke="#333" stroke-width="0.7"/>
<line x1="147.20" y1="211.00" x2="148.50" y2="211.00" stroke="#333" stroke-width="0.7"/>
<line x1="147.20" y1="228.00" x2="148.50" y2="228.00" stroke="#333" stroke-width="0.7"/>
<line x1="147.20" y1="207.00" x2="148.50" y2="207.00" stroke="#333" stroke-width="0.7"/>
<text x="139.90" y="167.20" font-size="6.2" text-anchor="end" textLength="6.00" lengthAdjust="spacingAndGlyphs" fill="#231f20">10</text>
<text x="140.60" y="165.10" font-size="4.0" text-anchor="start" textLength="2.22" lengthAdjust="spacingAndGlyphs" fill="#333">5</text>
<text x="139.90" y="185.70" font-size="6.2" text-anchor="end" textLength="6.00" lengthAdjust="spacingAndGlyphs" fill="#231f20">10</text>
<text x="140.60" y="183.60" font-size="4.0" text-anchor="start" textLength="2.22" lengthAdjust="spacingAndGlyphs" fill="#333">4</text>
<text x="139.90" y="204.20" font-size="6.2" text-anchor="end" textLength="6.00" lengthAdjust="spacingAndGlyphs" fill="#231f20">10</text>
<text x="140.60" y="202.10" font-size="4.0" text-anchor="start" textLength="2.22" lengthAdjust="spacingAndGlyphs" fill="#333">3</text>
<text x="142.20" y="224.20" font-size="6.2" text-anchor="end" textLength="3.28" lengthAdjust="spacingAndGlyphs" fill="#231f20">0</text>
<line x1="181.30" y1="228.50" x2="181.30" y2="230.70" stroke="#222" stroke-width="1.0"/>
<line x1="187.68" y1="228.50" x2="187.68" y2="229.80" stroke="#333" stroke-width="0.7"/>
<line x1="191.41" y1="228.50" x2="191.41" y2="229.80" stroke="#333" stroke-width="0.7"/>
<line x1="194.06" y1="228.50" x2="194.06" y2="229.80" stroke="#333" stroke-width="0.7"/>
<line x1="196.12" y1="228.50" x2="196.12" y2="229.80" stroke="#333" stroke-width="0.7"/>
<line x1="197.80" y1="228.50" x2="197.80" y2="229.80" stroke="#333" stroke-width="0.7"/>
<line x1="199.22" y1="228.50" x2="199.22" y2="229.80" stroke="#333" stroke-width="0.7"/>
<line x1="200.45" y1="228.50" x2="200.45" y2="229.80" stroke="#333" stroke-width="0.7"/>
<line x1="201.53" y1="228.50" x2="201.53" y2="229.80" stroke="#333" stroke-width="0.7"/>
<line x1="202.10" y1="228.50" x2="202.10" y2="230.70" stroke="#222" stroke-width="1.0"/>
<line x1="208.48" y1="228.50" x2="208.48" y2="229.80" stroke="#333" stroke-width="0.7"/>
<line x1="212.21" y1="228.50" x2="212.21" y2="229.80" stroke="#333" stroke-width="0.7"/>
<line x1="214.86" y1="228.50" x2="214.86" y2="229.80" stroke="#333" stroke-width="0.7"/>
<line x1="216.92" y1="228.50" x2="216.92" y2="229.80" stroke="#333" stroke-width="0.7"/>
<line x1="218.60" y1="228.50" x2="218.60" y2="229.80" stroke="#333" stroke-width="0.7"/>
<line x1="220.02" y1="228.50" x2="220.02" y2="229.80" stroke="#333" stroke-width="0.7"/>
<line x1="221.25" y1="228.50" x2="221.25" y2="229.80" stroke="#333" stroke-width="0.7"/>
<line x1="222.33" y1="228.50" x2="222.33" y2="229.80" stroke="#333" stroke-width="0.7"/>
<line x1="223.50" y1="228.50" x2="223.50" y2="230.70" stroke="#222" stroke-width="1.0"/>
<line x1="229.88" y1="228.50" x2="229.88" y2="229.80" stroke="#333" stroke-width="0.7"/>
<line x1="233.61" y1="228.50" x2="233.61" y2="229.80" stroke="#333" stroke-width="0.7"/>
<line x1="157.80" y1="228.50" x2="157.80" y2="230.70" stroke="#222" stroke-width="1.0"/>
<line x1="151.80" y1="228.50" x2="151.80" y2="229.80" stroke="#333" stroke-width="0.7"/>
<line x1="163.80" y1="228.50" x2="163.80" y2="229.80" stroke="#333" stroke-width="0.7"/>
<line x1="168.80" y1="228.50" x2="168.80" y2="229.80" stroke="#333" stroke-width="0.7"/>
<line x1="172.80" y1="228.50" x2="172.80" y2="229.80" stroke="#333" stroke-width="0.7"/>
<line x1="176.30" y1="228.50" x2="176.30" y2="229.80" stroke="#333" stroke-width="0.7"/>
<text x="180.85" y="238.60" font-size="6.3" text-anchor="middle" textLength="6.50" lengthAdjust="spacingAndGlyphs" fill="#231f20">10</text>
<text x="184.35" y="236.40" font-size="4.0" text-anchor="start" textLength="2.22" lengthAdjust="spacingAndGlyphs" fill="#333">3</text>
<text x="201.90" y="238.60" font-size="6.3" text-anchor="middle" textLength="6.50" lengthAdjust="spacingAndGlyphs" fill="#231f20">10</text>
<text x="205.40" y="236.40" font-size="4.0" text-anchor="start" textLength="2.22" lengthAdjust="spacingAndGlyphs" fill="#333">4</text>
<text x="224.00" y="238.60" font-size="6.3" text-anchor="middle" textLength="6.50" lengthAdjust="spacingAndGlyphs" fill="#231f20">10</text>
<text x="227.50" y="236.40" font-size="4.0" text-anchor="start" textLength="2.22" lengthAdjust="spacingAndGlyphs" fill="#333">5</text>
<text x="158.10" y="238.60" font-size="6.3" text-anchor="middle" textLength="3.33" lengthAdjust="spacingAndGlyphs" fill="#231f20">0</text>
<text x="191.10" y="250.20" font-size="8.6" font-weight="bold" text-anchor="middle" textLength="25.20" lengthAdjust="spacingAndGlyphs" fill="#231f20">Annexin-V</text>
<text transform="translate(128.70,190.60) rotate(-90)" x="0" y="0" font-size="8.4" font-weight="bold" text-anchor="middle" textLength="4.80" lengthAdjust="spacingAndGlyphs" fill="#231f20">PI</text>
<text x="207.80" y="164.60" font-size="6.1" text-anchor="start" textLength="7.46" lengthAdjust="spacingAndGlyphs" fill="#2a2a2a">LA</text>
<text x="206.00" y="172.50" font-size="6.1" text-anchor="start" textLength="26.45" lengthAdjust="spacingAndGlyphs" fill="#2a2a2a">%P:53.33</text>
<text x="150.30" y="205.20" font-size="6.1" text-anchor="start" textLength="11.19" lengthAdjust="spacingAndGlyphs" fill="#2a2a2a">Live</text>
<text x="150.30" y="212.00" font-size="6.1" text-anchor="start" textLength="26.45" lengthAdjust="spacingAndGlyphs" fill="#2a2a2a">%P:38.28</text>
<text x="209.90" y="217.40" font-size="6.1" text-anchor="start" textLength="8.14" lengthAdjust="spacingAndGlyphs" fill="#2a2a2a">EA</text>
<text x="209.90" y="225.00" font-size="6.1" text-anchor="start" textLength="23.06" lengthAdjust="spacingAndGlyphs" fill="#2a2a2a">%P:7.07</text>
<g clip-path="url(#c5)">
<path d="M325.60,220.80 325.58,230.36 325.52,232.44 325.42,233.85 325.28,234.93 325.09,235.81 324.86,236.55 324.59,237.18 324.26,237.72 323.87,238.19 323.43,238.59 322.91,238.94 322.31,239.23 321.61,239.47 320.77,239.66 319.74,239.81 318.40,239.92 316.41,239.98 307.30,240.00 298.19,239.98 296.20,239.92 294.86,239.81 293.83,239.66 292.99,239.47 292.29,239.23 291.69,238.94 291.17,238.59 290.73,238.19 290.34,237.72 290.01,237.18 289.74,236.55 289.51,235.81 289.32,234.93 289.18,233.85 289.08,232.44 289.02,230.36 289.00,220.80 289.02,211.24 289.08,209.16 289.18,207.75 289.32,206.67 289.51,205.79 289.74,205.05 290.01,204.42 290.34,203.88 290.73,203.41 291.17,203.01 291.69,202.66 292.29,202.37 292.99,202.13 293.83,201.94 294.86,201.79 296.20,201.68 298.19,201.62 307.30,201.60 316.41,201.62 318.40,201.68 319.74,201.79 320.77,201.94 321.61,202.13 322.31,202.37 322.91,202.66 323.43,203.01 323.87,203.41 324.26,203.88 324.59,204.42 324.86,205.05 325.09,205.79 325.28,206.67 325.42,207.75 325.52,209.16 325.58,211.24Z" fill="#1f1fe8"/>
<path d="M300.00,225.50 299.99,229.78 299.94,231.54 299.87,232.88 299.76,233.98 299.62,234.93 299.46,235.75 299.25,236.48 299.02,237.13 298.75,237.69 298.44,238.19 298.10,238.62 297.70,238.99 297.25,239.30 296.74,239.56 296.14,239.75 295.42,239.89 294.47,239.97 292.15,240.00 289.83,239.97 288.88,239.89 288.16,239.75 287.56,239.56 287.05,239.30 286.60,238.99 286.20,238.62 285.86,238.19 285.55,237.69 285.28,237.13 285.05,236.48 284.84,235.75 284.68,234.93 284.54,233.98 284.43,232.88 284.36,231.54 284.31,229.78 284.30,225.50 284.31,221.22 284.36,219.46 284.43,218.12 284.54,217.02 284.68,216.07 284.84,215.25 285.05,214.52 285.28,213.87 285.55,213.31 285.86,212.81 286.20,212.38 286.60,212.01 287.05,211.70 287.56,211.44 288.16,211.25 288.88,211.11 289.83,211.03 292.15,211.00 294.47,211.03 295.42,211.11 296.14,211.25 296.74,211.44 297.25,211.70 297.70,212.01 298.10,212.38 298.44,212.81 298.75,213.31 299.02,213.87 299.25,214.52 299.46,215.25 299.62,216.07 299.76,217.02 299.87,218.12 299.94,219.46 299.99,221.22Z" fill="#1f1fe8"/>
<path d="M323.60,221.10 323.58,230.01 323.53,231.95 323.44,233.27 323.32,234.27 323.16,235.10 322.96,235.78 322.72,236.37 322.44,236.88 322.11,237.31 321.73,237.69 321.28,238.01 320.76,238.28 320.15,238.50 319.43,238.68 318.54,238.82 317.38,238.92 315.67,238.98 307.80,239.00 299.93,238.98 298.22,238.92 297.06,238.82 296.17,238.68 295.45,238.50 294.84,238.28 294.32,238.01 293.87,237.69 293.49,237.31 293.16,236.88 292.88,236.37 292.64,235.78 292.44,235.10 292.28,234.27 292.16,233.27 292.07,231.95 292.02,230.01 292.00,221.10 292.02,212.19 292.07,210.25 292.16,208.93 292.28,207.93 292.44,207.10 292.64,206.42 292.88,205.83 293.16,205.32 293.49,204.89 293.87,204.51 294.32,204.19 294.84,203.92 295.45,203.70 296.17,203.52 297.06,203.38 298.22,203.28 299.93,203.22 307.80,203.20 315.67,203.22 317.38,203.28 318.54,203.38 319.43,203.52 320.15,203.70 320.76,203.92 321.28,204.19 321.73,204.51 322.11,204.89 322.44,205.32 322.72,205.83 322.96,206.42 323.16,207.10 323.32,207.93 323.44,208.93 323.53,210.25 323.58,212.19Z" fill="#3d7df5"/>
<path d="M322.50,220.95 322.48,229.44 322.44,231.29 322.36,232.54 322.24,233.50 322.10,234.28 321.92,234.94 321.70,235.50 321.44,235.98 321.13,236.39 320.78,236.75 320.37,237.06 319.89,237.31 319.34,237.53 318.67,237.70 317.85,237.83 316.79,237.93 315.22,237.98 308.00,238.00 300.78,237.98 299.21,237.93 298.15,237.83 297.33,237.70 296.66,237.53 296.11,237.31 295.63,237.06 295.22,236.75 294.87,236.39 294.56,235.98 294.30,235.50 294.08,234.94 293.90,234.28 293.76,233.50 293.64,232.54 293.56,231.29 293.52,229.44 293.50,220.95 293.52,212.46 293.56,210.61 293.64,209.36 293.76,208.40 293.90,207.62 294.08,206.96 294.30,206.40 294.56,205.92 294.87,205.51 295.22,205.15 295.63,204.84 296.11,204.59 296.66,204.37 297.33,204.20 298.15,204.07 299.21,203.97 300.78,203.92 308.00,203.90 315.22,203.92 316.79,203.97 317.85,204.07 318.67,204.20 319.34,204.37 319.89,204.59 320.37,204.84 320.78,205.15 321.13,205.51 321.44,205.92 321.70,206.40 321.92,206.96 322.10,207.62 322.24,208.40 322.36,209.36 322.44,210.61 322.48,212.46Z" fill="#27d8f2"/>
<path d="M318.00,220.30 317.99,227.62 317.96,229.21 317.91,230.29 317.83,231.12 317.74,231.79 317.62,232.36 317.48,232.84 317.31,233.26 317.11,233.61 316.88,233.92 316.62,234.19 316.31,234.41 315.95,234.59 315.52,234.74 314.99,234.86 314.30,234.94 313.28,234.98 308.60,235.00 303.92,234.98 302.90,234.94 302.21,234.86 301.68,234.74 301.25,234.59 300.89,234.41 300.58,234.19 300.32,233.92 300.09,233.61 299.89,233.26 299.72,232.84 299.58,232.36 299.46,231.79 299.37,231.12 299.29,230.29 299.24,229.21 299.21,227.62 299.20,220.30 299.21,212.98 299.24,211.39 299.29,210.31 299.37,209.48 299.46,208.81 299.58,208.24 299.72,207.76 299.89,207.34 300.09,206.99 300.32,206.68 300.58,206.41 300.89,206.19 301.25,206.01 301.68,205.86 302.21,205.74 302.90,205.66 303.92,205.62 308.60,205.60 313.28,205.62 314.30,205.66 314.99,205.74 315.52,205.86 315.95,206.01 316.31,206.19 316.62,206.41 316.88,206.68 317.11,206.99 317.31,207.34 317.48,207.76 317.62,208.24 317.74,208.81 317.83,209.48 317.91,210.31 317.96,211.39 317.99,212.98Z" fill="#2ef07a"/>
</g>
<path d="M345.4,157.1 329.6,157.1 329.4,157.4 329.4,157.9 328.9,158.9 328.9,159.6 328.4,160.6 328.4,161.6 328.1,161.9 328.1,162.9 327.9,163.1 327.9,164.1 327.6,164.4 327.6,166.1 327.4,166.4 327.1,171.4 326.9,171.6 326.9,174.1 326.6,174.4 326.6,177.1 326.4,177.4 326.4,179.9 326.1,180.1 326.1,182.9 325.9,183.1 325.9,187.1 325.6,187.4 325.6,191.4 325.9,191.6 325.9,194.1 326.1,194.4 326.1,195.6 326.4,195.9 326.4,196.6 326.6,196.9 327.1,198.9 328.1,200.6 328.4,202.4 326.6,204.1 326.4,205.4 326.9,206.4 327.6,206.9 328.1,206.9 328.4,207.1 330.1,207.1 330.6,207.4 332.6,210.4 333.9,211.1 335.1,211.1 336.1,210.6 337.1,209.4 338.4,206.6 339.4,203.4 342.1,198.1 342.1,197.6 342.6,196.9 342.6,196.4 343.1,195.4 343.6,192.9 343.9,192.6 344.1,190.1 344.4,189.9 344.4,188.6 344.6,188.4 344.6,187.1 344.9,186.9 345.1,183.1 345.4,182.9 345.6,177.9 345.9,177.6 345.9,174.4 346.1,174.1 346.1,169.9 346.4,169.6 346.4,162.6 346.6,162.4 346.6,161.1 346.4,160.9 346.4,159.9Z" fill="#1f1fe8" fill-rule="evenodd"/>
<path d="M328.4,204.9 328.4,205.1 328.9,205.1ZM343.1,157.1 331.9,157.1 330.4,160.1 330.4,160.9 329.4,163.6 329.4,164.9 329.1,165.1 329.1,167.6 328.9,167.9 328.9,170.1 328.6,170.4 328.6,172.9 328.4,173.1 328.4,175.6 328.1,175.9 328.1,178.4 327.9,178.6 327.9,181.4 327.6,181.6 327.6,185.1 327.4,185.4 327.4,191.4 327.6,191.6 327.9,194.6 328.1,194.9 328.6,196.9 333.1,204.9 334.1,205.6 335.1,205.6 335.9,204.9 337.9,201.1 339.6,198.6 341.6,194.4 341.6,193.9 342.1,192.9 342.1,192.1 342.4,191.9 342.4,191.1 342.6,190.9 342.6,190.1 342.9,189.9 343.1,187.6 343.4,187.4 343.6,184.4 343.9,184.1 343.9,182.6 344.1,182.4 344.1,180.6 344.4,180.4 344.4,177.9 344.6,177.6 344.6,173.9 344.9,173.6 344.9,163.4 345.1,163.1 345.1,160.9Z" fill="#3d7df5" fill-rule="evenodd"/>
<path d="M341.9,157.1 333.1,157.1 332.4,157.9 331.4,159.9 331.4,160.4 330.9,161.1 330.9,161.6 330.1,163.4 330.1,164.1 329.9,164.4 329.9,167.1 329.6,167.4 329.6,169.9 329.4,170.1 329.1,175.1 328.9,175.4 328.9,178.1 328.6,178.4 328.6,181.1 328.4,181.4 328.4,184.4 328.1,184.6 328.1,190.9 328.4,191.1 328.4,192.6 328.6,192.9 328.9,194.9 330.1,197.6 332.9,201.4 334.4,202.4 335.4,202.1 336.9,200.6 340.4,195.4 340.4,194.9 340.9,194.1 340.9,193.6 341.4,192.9 341.4,192.1 341.9,191.1 341.9,190.4 342.1,190.1 342.1,189.4 342.6,188.1 342.6,187.1 342.9,186.9 342.9,185.9 343.1,185.6 343.1,184.4 343.4,184.1 343.6,180.6 343.9,180.4 343.9,178.1 344.1,177.9 344.1,173.4 344.4,173.1 344.1,164.1 344.4,163.9 344.4,162.9 344.6,162.6 344.6,161.4 344.1,160.1Z" fill="#27d8f2" fill-rule="evenodd"/>
<path d="M339.6,157.1 335.1,157.1 334.6,157.4 332.6,159.6 331.4,162.1 331.4,162.6 330.9,163.4 330.9,164.1 330.6,164.4 330.6,168.1 330.4,168.4 330.1,173.4 329.9,173.6 329.9,176.1 329.6,176.4 329.6,179.1 329.4,179.4 329.4,182.1 329.1,182.4 329.1,191.4 329.4,191.6 329.4,192.6 329.6,192.9 329.9,194.4 330.9,196.4 332.6,198.4 333.9,199.1 335.6,199.1 336.4,198.6 338.4,196.6 339.4,195.1 340.4,193.1 340.4,192.6 341.6,189.4 341.6,188.6 342.1,187.4 342.1,186.4 342.4,186.1 342.4,185.1 342.6,184.9 342.6,183.9 342.9,183.6 342.9,182.4 343.1,182.1 343.4,177.9 343.6,177.6 343.6,166.9 343.4,166.6 343.4,164.6 343.6,164.4 343.6,163.4 343.9,163.1 343.9,161.1 342.4,159.1 342.1,159.1 340.6,157.6Z" fill="#3be33b" fill-rule="evenodd"/>
<path d="M340.4,160.9 337.4,160.9 337.1,161.1 335.9,161.4 333.9,162.9 333.4,164.1 333.6,165.1 335.4,166.9 335.4,168.4 335.1,168.6 335.1,169.4 334.6,170.6 334.6,171.6 334.4,171.9 334.1,174.9 333.9,175.1 333.9,177.4 333.6,177.6 333.6,185.9 334.6,188.4 336.1,189.6 337.1,189.6 337.6,189.4 338.6,188.4 338.9,187.6 339.4,187.1 340.6,183.9 340.6,183.1 341.1,181.9 341.1,180.6 341.4,180.4 341.4,178.9 341.6,178.6 341.6,172.4 341.4,172.1 341.1,169.4 340.1,166.9 340.1,165.4 341.6,163.1 341.6,161.6Z" fill="#f2ee1a" fill-rule="evenodd"/>
<path d="M338.9,170.1 338.4,170.1 337.4,171.1 336.4,173.6 336.1,175.6 335.9,175.9 335.6,181.4 335.9,181.6 335.9,183.1 336.1,183.4 336.4,184.6 337.1,185.4 338.1,185.4 338.9,184.6 340.1,181.6 340.4,179.4 340.6,179.1 340.6,173.6 340.4,173.4 340.1,171.6 339.6,170.6ZM340.6,162.1 339.9,161.6 337.4,161.6 335.4,162.6 334.9,163.1 334.9,163.6 334.6,163.9 335.4,164.9 335.9,164.9 336.1,165.1 337.9,165.1 339.1,164.6 340.4,163.6 340.6,163.1Z" fill="#ff7a10" fill-rule="evenodd"/>
<path d="M339.1,172.4 338.4,172.4 337.9,172.9 337.1,174.4 336.9,176.4 336.6,176.6 336.6,181.6 336.9,181.9 336.9,182.6 337.4,183.4 338.4,183.4 339.1,182.4 339.6,181.1 339.6,180.4 339.9,180.1 339.9,179.1 340.1,178.9 340.1,174.6 339.9,174.4 339.9,173.6ZM340.1,162.4 339.4,161.9 337.9,161.9 336.1,162.6 335.4,163.4 335.4,163.9 336.4,164.6 337.9,164.6 339.1,164.1 340.1,163.1Z" fill="#f01414" fill-rule="evenodd"/>
<text x="313.00" y="139.60" font-size="7.8" text-anchor="middle" textLength="78.20" lengthAdjust="spacingAndGlyphs" fill="#231f20">miR-146b-5p inhibitor</text>
<text x="313.00" y="149.20" font-size="7.8" text-anchor="middle" textLength="66.30" lengthAdjust="spacingAndGlyphs" fill="#231f20">+IL-23+αIL-23p19</text>
<rect x="270.50" y="156.50" width="85.00" height="72.00" fill="none" stroke="#1a1a1a" stroke-width="1.0"/>
<line x1="328.50" y1="156.50" x2="328.50" y2="228.50" stroke="#1a1a1a" stroke-width="1.0"/>
<line x1="270.50" y1="198.50" x2="355.50" y2="198.50" stroke="#1a1a1a" stroke-width="1.0"/>
<line x1="268.30" y1="165.00" x2="270.50" y2="165.00" stroke="#222" stroke-width="1.0"/>
<line x1="269.20" y1="159.43" x2="270.50" y2="159.43" stroke="#333" stroke-width="0.7"/>
<line x1="268.30" y1="183.50" x2="270.50" y2="183.50" stroke="#222" stroke-width="1.0"/>
<line x1="269.20" y1="177.93" x2="270.50" y2="177.93" stroke="#333" stroke-width="0.7"/>
<line x1="269.20" y1="174.67" x2="270.50" y2="174.67" stroke="#333" stroke-width="0.7"/>
<line x1="269.20" y1="172.36" x2="270.50" y2="172.36" stroke="#333" stroke-width="0.7"/>
<line x1="269.20" y1="170.57" x2="270.50" y2="170.57" stroke="#333" stroke-width="0.7"/>
<line x1="269.20" y1="169.10" x2="270.50" y2="169.10" stroke="#333" stroke-width="0.7"/>
<line x1="269.20" y1="167.87" x2="270.50" y2="167.87" stroke="#333" stroke-width="0.7"/>
<line x1="269.20" y1="166.79" x2="270.50" y2="166.79" stroke="#333" stroke-width="0.7"/>
<line x1="269.20" y1="165.85" x2="270.50" y2="165.85" stroke="#333" stroke-width="0.7"/>
<line x1="268.30" y1="202.00" x2="270.50" y2="202.00" stroke="#222" stroke-width="1.0"/>
<line x1="269.20" y1="196.43" x2="270.50" y2="196.43" stroke="#333" stroke-width="0.7"/>
<line x1="269.20" y1="193.17" x2="270.50" y2="193.17" stroke="#333" stroke-width="0.7"/>
<line x1="269.20" y1="190.86" x2="270.50" y2="190.86" stroke="#333" stroke-width="0.7"/>
<line x1="269.20" y1="189.07" x2="270.50" y2="189.07" stroke="#333" stroke-width="0.7"/>
<line x1="269.20" y1="187.60" x2="270.50" y2="187.60" stroke="#333" stroke-width="0.7"/>
<line x1="269.20" y1="186.37" x2="270.50" y2="186.37" stroke="#333" stroke-width="0.7"/>
<line x1="269.20" y1="185.29" x2="270.50" y2="185.29" stroke="#333" stroke-width="0.7"/>
<line x1="269.20" y1="184.35" x2="270.50" y2="184.35" stroke="#333" stroke-width="0.7"/>
<line x1="268.30" y1="222.00" x2="270.50" y2="222.00" stroke="#222" stroke-width="1.0"/>
<line x1="269.20" y1="216.00" x2="270.50" y2="216.00" stroke="#333" stroke-width="0.7"/>
<line x1="269.20" y1="211.00" x2="270.50" y2="211.00" stroke="#333" stroke-width="0.7"/>
<line x1="269.20" y1="228.00" x2="270.50" y2="228.00" stroke="#333" stroke-width="0.7"/>
<line x1="269.20" y1="207.00" x2="270.50" y2="207.00" stroke="#333" stroke-width="0.7"/>
<text x="261.90" y="167.20" font-size="6.2" text-anchor="end" textLength="6.00" lengthAdjust="spacingAndGlyphs" fill="#231f20">10</text>
<text x="262.60" y="165.10" font-size="4.0" text-anchor="start" textLength="2.22" lengthAdjust="spacingAndGlyphs" fill="#333">5</text>
<text x="261.90" y="185.70" font-size="6.2" text-anchor="end" textLength="6.00" lengthAdjust="spacingAndGlyphs" fill="#231f20">10</text>
<text x="262.60" y="183.60" font-size="4.0" text-anchor="start" textLength="2.22" lengthAdjust="spacingAndGlyphs" fill="#333">4</text>
<text x="261.90" y="204.20" font-size="6.2" text-anchor="end" textLength="6.00" lengthAdjust="spacingAndGlyphs" fill="#231f20">10</text>
<text x="262.60" y="202.10" font-size="4.0" text-anchor="start" textLength="2.22" lengthAdjust="spacingAndGlyphs" fill="#333">3</text>
<text x="264.20" y="224.20" font-size="6.2" text-anchor="end" textLength="3.28" lengthAdjust="spacingAndGlyphs" fill="#231f20">0</text>
<line x1="303.30" y1="228.50" x2="303.30" y2="230.70" stroke="#222" stroke-width="1.0"/>
<line x1="309.68" y1="228.50" x2="309.68" y2="229.80" stroke="#333" stroke-width="0.7"/>
<line x1="313.41" y1="228.50" x2="313.41" y2="229.80" stroke="#333" stroke-width="0.7"/>
<line x1="316.06" y1="228.50" x2="316.06" y2="229.80" stroke="#333" stroke-width="0.7"/>
<line x1="318.12" y1="228.50" x2="318.12" y2="229.80" stroke="#333" stroke-width="0.7"/>
<line x1="319.80" y1="228.50" x2="319.80" y2="229.80" stroke="#333" stroke-width="0.7"/>
<line x1="321.22" y1="228.50" x2="321.22" y2="229.80" stroke="#333" stroke-width="0.7"/>
<line x1="322.45" y1="228.50" x2="322.45" y2="229.80" stroke="#333" stroke-width="0.7"/>
<line x1="323.53" y1="228.50" x2="323.53" y2="229.80" stroke="#333" stroke-width="0.7"/>
<line x1="324.10" y1="228.50" x2="324.10" y2="230.70" stroke="#222" stroke-width="1.0"/>
<line x1="330.48" y1="228.50" x2="330.48" y2="229.80" stroke="#333" stroke-width="0.7"/>
<line x1="334.21" y1="228.50" x2="334.21" y2="229.80" stroke="#333" stroke-width="0.7"/>
<line x1="336.86" y1="228.50" x2="336.86" y2="229.80" stroke="#333" stroke-width="0.7"/>
<line x1="338.92" y1="228.50" x2="338.92" y2="229.80" stroke="#333" stroke-width="0.7"/>
<line x1="340.60" y1="228.50" x2="340.60" y2="229.80" stroke="#333" stroke-width="0.7"/>
<line x1="342.02" y1="228.50" x2="342.02" y2="229.80" stroke="#333" stroke-width="0.7"/>
<line x1="343.25" y1="228.50" x2="343.25" y2="229.80" stroke="#333" stroke-width="0.7"/>
<line x1="344.33" y1="228.50" x2="344.33" y2="229.80" stroke="#333" stroke-width="0.7"/>
<line x1="345.50" y1="228.50" x2="345.50" y2="230.70" stroke="#222" stroke-width="1.0"/>
<line x1="351.88" y1="228.50" x2="351.88" y2="229.80" stroke="#333" stroke-width="0.7"/>
<line x1="279.80" y1="228.50" x2="279.80" y2="230.70" stroke="#222" stroke-width="1.0"/>
<line x1="273.80" y1="228.50" x2="273.80" y2="229.80" stroke="#333" stroke-width="0.7"/>
<line x1="285.80" y1="228.50" x2="285.80" y2="229.80" stroke="#333" stroke-width="0.7"/>
<line x1="290.80" y1="228.50" x2="290.80" y2="229.80" stroke="#333" stroke-width="0.7"/>
<line x1="294.80" y1="228.50" x2="294.80" y2="229.80" stroke="#333" stroke-width="0.7"/>
<line x1="298.30" y1="228.50" x2="298.30" y2="229.80" stroke="#333" stroke-width="0.7"/>
<text x="302.85" y="238.60" font-size="6.3" text-anchor="middle" textLength="6.50" lengthAdjust="spacingAndGlyphs" fill="#231f20">10</text>
<text x="306.35" y="236.40" font-size="4.0" text-anchor="start" textLength="2.22" lengthAdjust="spacingAndGlyphs" fill="#333">3</text>
<text x="323.90" y="238.60" font-size="6.3" text-anchor="middle" textLength="6.50" lengthAdjust="spacingAndGlyphs" fill="#231f20">10</text>
<text x="327.40" y="236.40" font-size="4.0" text-anchor="start" textLength="2.22" lengthAdjust="spacingAndGlyphs" fill="#333">4</text>
<text x="346.00" y="238.60" font-size="6.3" text-anchor="middle" textLength="6.50" lengthAdjust="spacingAndGlyphs" fill="#231f20">10</text>
<text x="349.50" y="236.40" font-size="4.0" text-anchor="start" textLength="2.22" lengthAdjust="spacingAndGlyphs" fill="#333">5</text>
<text x="280.10" y="238.60" font-size="6.3" text-anchor="middle" textLength="3.33" lengthAdjust="spacingAndGlyphs" fill="#231f20">0</text>
<text x="313.10" y="250.20" font-size="8.6" font-weight="bold" text-anchor="middle" textLength="25.20" lengthAdjust="spacingAndGlyphs" fill="#231f20">Annexin-V</text>
<text transform="translate(250.70,190.60) rotate(-90)" x="0" y="0" font-size="8.4" font-weight="bold" text-anchor="middle" textLength="4.80" lengthAdjust="spacingAndGlyphs" fill="#231f20">PI</text>
<text x="329.50" y="162.50" font-size="6.1" text-anchor="start" textLength="7.46" lengthAdjust="spacingAndGlyphs" fill="#2a2a2a">LA</text>
<text x="327.60" y="170.50" font-size="6.1" text-anchor="start" textLength="26.45" lengthAdjust="spacingAndGlyphs" fill="#2a2a2a">%P:34.63</text>
<text x="271.80" y="205.60" font-size="6.1" text-anchor="start" textLength="11.19" lengthAdjust="spacingAndGlyphs" fill="#2a2a2a">Live</text>
<text x="271.80" y="212.40" font-size="6.1" text-anchor="start" textLength="26.45" lengthAdjust="spacingAndGlyphs" fill="#2a2a2a">%P:38.51</text>
<text x="330.00" y="217.30" font-size="6.1" text-anchor="start" textLength="8.14" lengthAdjust="spacingAndGlyphs" fill="#2a2a2a">EA</text>
<text x="330.00" y="225.20" font-size="6.1" text-anchor="start" textLength="23.06" lengthAdjust="spacingAndGlyphs" fill="#2a2a2a">%P:5.65</text>
<text x="384.50" y="10.20" font-size="11.5" font-weight="bold" text-anchor="start" textLength="8.94" lengthAdjust="spacingAndGlyphs" fill="#111">G</text>
<text x="466.50" y="9.60" font-size="8.8" text-anchor="middle" textLength="47.50" lengthAdjust="spacingAndGlyphs" fill="#231f20">Cell viability</text>
<line x1="413.50" y1="15.50" x2="413.50" y2="148.50" stroke="#231f20" stroke-width="0.9"/>
<line x1="413.50" y1="148.50" x2="520.00" y2="148.50" stroke="#231f20" stroke-width="1.0"/>
<line x1="410.70" y1="148.50" x2="413.50" y2="148.50" stroke="#231f20" stroke-width="0.8"/>
<text x="407.00" y="151.00" font-size="7.0" text-anchor="end" textLength="4.60" lengthAdjust="spacingAndGlyphs" fill="#231f20">0</text>
<line x1="410.70" y1="130.13" x2="413.50" y2="130.13" stroke="#231f20" stroke-width="0.8"/>
<text x="407.00" y="132.63" font-size="7.0" text-anchor="end" textLength="8.60" lengthAdjust="spacingAndGlyphs" fill="#231f20">10</text>
<line x1="410.70" y1="111.76" x2="413.50" y2="111.76" stroke="#231f20" stroke-width="0.8"/>
<text x="407.00" y="114.26" font-size="7.0" text-anchor="end" textLength="8.60" lengthAdjust="spacingAndGlyphs" fill="#231f20">20</text>
<line x1="410.70" y1="93.39" x2="413.50" y2="93.39" stroke="#231f20" stroke-width="0.8"/>
<text x="407.00" y="95.89" font-size="7.0" text-anchor="end" textLength="8.60" lengthAdjust="spacingAndGlyphs" fill="#231f20">30</text>
<line x1="410.70" y1="75.02" x2="413.50" y2="75.02" stroke="#231f20" stroke-width="0.8"/>
<text x="407.00" y="77.52" font-size="7.0" text-anchor="end" textLength="8.60" lengthAdjust="spacingAndGlyphs" fill="#231f20">40</text>
<line x1="410.70" y1="56.65" x2="413.50" y2="56.65" stroke="#231f20" stroke-width="0.8"/>
<text x="407.00" y="59.15" font-size="7.0" text-anchor="end" textLength="8.60" lengthAdjust="spacingAndGlyphs" fill="#231f20">50</text>
<line x1="410.70" y1="38.28" x2="413.50" y2="38.28" stroke="#231f20" stroke-width="0.8"/>
<text x="407.00" y="40.78" font-size="7.0" text-anchor="end" textLength="8.60" lengthAdjust="spacingAndGlyphs" fill="#231f20">60</text>
<line x1="410.70" y1="19.91" x2="413.50" y2="19.91" stroke="#231f20" stroke-width="0.8"/>
<text x="407.00" y="22.41" font-size="7.0" text-anchor="end" textLength="8.60" lengthAdjust="spacingAndGlyphs" fill="#231f20">70</text>
<line x1="430.80" y1="148.50" x2="430.80" y2="150.90" stroke="#231f20" stroke-width="0.8"/>
<text x="431.10" y="159.60" font-size="7.0" text-anchor="middle" textLength="13.40" lengthAdjust="spacingAndGlyphs" fill="#231f20">24h</text>
<line x1="467.80" y1="148.50" x2="467.80" y2="150.90" stroke="#231f20" stroke-width="0.8"/>
<text x="468.10" y="159.60" font-size="7.0" text-anchor="middle" textLength="13.40" lengthAdjust="spacingAndGlyphs" fill="#231f20">48h</text>
<line x1="504.80" y1="148.50" x2="504.80" y2="150.90" stroke="#231f20" stroke-width="0.8"/>
<text x="505.10" y="159.60" font-size="7.0" text-anchor="middle" textLength="13.40" lengthAdjust="spacingAndGlyphs" fill="#231f20">72h</text>
<text x="466.40" y="172.70" font-size="8.8" text-anchor="middle" textLength="12.90" lengthAdjust="spacingAndGlyphs" fill="#231f20">Time</text>
<text transform="translate(391.00,82.40) rotate(-90)" x="0" y="0" font-size="7.6" text-anchor="middle" textLength="116.50" lengthAdjust="spacingAndGlyphs" fill="#231f20" style="stroke-width:0.3px">Annexin-V/PI negative cells (mean±SD)</text>
<line x1="430.80" y1="32.77" x2="430.80" y2="103.13" stroke="#333" stroke-width="1.0"/>
<line x1="429.50" y1="32.77" x2="432.10" y2="32.77" stroke="#333" stroke-width="0.9"/>
<line x1="429.50" y1="40.12" x2="432.10" y2="40.12" stroke="#333" stroke-width="0.9"/>
<line x1="429.50" y1="48.38" x2="432.10" y2="48.38" stroke="#333" stroke-width="0.9"/>
<line x1="429.50" y1="53.89" x2="432.10" y2="53.89" stroke="#333" stroke-width="0.9"/>
<line x1="429.50" y1="57.57" x2="432.10" y2="57.57" stroke="#333" stroke-width="0.9"/>
<line x1="429.50" y1="64.92" x2="432.10" y2="64.92" stroke="#333" stroke-width="0.9"/>
<line x1="429.50" y1="87.88" x2="432.10" y2="87.88" stroke="#333" stroke-width="0.9"/>
<line x1="429.50" y1="95.23" x2="432.10" y2="95.23" stroke="#333" stroke-width="0.9"/>
<line x1="429.50" y1="99.82" x2="432.10" y2="99.82" stroke="#333" stroke-width="0.9"/>
<line x1="429.50" y1="103.13" x2="432.10" y2="103.13" stroke="#333" stroke-width="0.9"/>
<line x1="467.80" y1="34.24" x2="467.80" y2="117.82" stroke="#333" stroke-width="1.0"/>
<line x1="466.50" y1="34.24" x2="469.10" y2="34.24" stroke="#333" stroke-width="0.9"/>
<line x1="466.50" y1="50.22" x2="469.10" y2="50.22" stroke="#333" stroke-width="0.9"/>
<line x1="466.50" y1="58.49" x2="469.10" y2="58.49" stroke="#333" stroke-width="0.9"/>
<line x1="466.50" y1="61.24" x2="469.10" y2="61.24" stroke="#333" stroke-width="0.9"/>
<line x1="466.50" y1="69.51" x2="469.10" y2="69.51" stroke="#333" stroke-width="0.9"/>
<line x1="466.50" y1="74.10" x2="469.10" y2="74.10" stroke="#333" stroke-width="0.9"/>
<line x1="466.50" y1="102.58" x2="469.10" y2="102.58" stroke="#333" stroke-width="0.9"/>
<line x1="466.50" y1="109.92" x2="469.10" y2="109.92" stroke="#333" stroke-width="0.9"/>
<line x1="466.50" y1="115.43" x2="469.10" y2="115.43" stroke="#333" stroke-width="0.9"/>
<line x1="466.50" y1="117.82" x2="469.10" y2="117.82" stroke="#333" stroke-width="0.9"/>
<line x1="504.80" y1="42.51" x2="504.80" y2="133.80" stroke="#333" stroke-width="1.0"/>
<line x1="503.50" y1="42.51" x2="506.10" y2="42.51" stroke="#333" stroke-width="0.9"/>
<line x1="503.50" y1="60.32" x2="506.10" y2="60.32" stroke="#333" stroke-width="0.9"/>
<line x1="503.50" y1="66.75" x2="506.10" y2="66.75" stroke="#333" stroke-width="0.9"/>
<line x1="503.50" y1="73.18" x2="506.10" y2="73.18" stroke="#333" stroke-width="0.9"/>
<line x1="503.50" y1="79.61" x2="506.10" y2="79.61" stroke="#333" stroke-width="0.9"/>
<line x1="503.50" y1="83.29" x2="506.10" y2="83.29" stroke="#333" stroke-width="0.9"/>
<line x1="503.50" y1="116.35" x2="506.10" y2="116.35" stroke="#333" stroke-width="0.9"/>
<line x1="503.50" y1="126.46" x2="506.10" y2="126.46" stroke="#333" stroke-width="0.9"/>
<line x1="503.50" y1="131.05" x2="506.10" y2="131.05" stroke="#333" stroke-width="0.9"/>
<line x1="503.50" y1="133.80" x2="506.10" y2="133.80" stroke="#333" stroke-width="0.9"/>
<polyline points="430.8,77.8 467.8,87.5 504.8,101.8" fill="none" stroke="#0d6b55" stroke-width="1.4"/>
<rect x="428.70" y="75.68" width="4.20" height="4.20" fill="#0d6b55"/>
<rect x="465.70" y="85.41" width="4.20" height="4.20" fill="#0d6b55"/>
<rect x="502.70" y="99.74" width="4.20" height="4.20" fill="#0d6b55"/>
<polyline points="430.8,74.7 467.8,86.8 504.8,100.7" fill="none" stroke="#1d5a94" stroke-width="1.4"/>
<rect x="428.70" y="72.55" width="4.20" height="4.20" fill="#1d5a94"/>
<rect x="465.70" y="84.68" width="4.20" height="4.20" fill="#1d5a94"/>
<rect x="502.70" y="98.64" width="4.20" height="4.20" fill="#1d5a94"/>
<polyline points="430.8,72.6 467.8,86.4 504.8,100.0" fill="none" stroke="#5c2a7e" stroke-width="1.4"/>
<rect x="428.70" y="70.53" width="4.20" height="4.20" fill="#5c2a7e"/>
<rect x="465.70" y="84.31" width="4.20" height="4.20" fill="#5c2a7e"/>
<rect x="502.70" y="97.90" width="4.20" height="4.20" fill="#5c2a7e"/>
<polyline points="430.8,69.5 467.8,83.8 504.8,98.5" fill="none" stroke="#f7981d" stroke-width="1.4"/>
<rect x="428.70" y="67.41" width="4.20" height="4.20" fill="#f7981d"/>
<rect x="465.70" y="81.74" width="4.20" height="4.20" fill="#f7981d"/>
<rect x="502.70" y="96.43" width="4.20" height="4.20" fill="#f7981d"/>
<polyline points="430.8,63.4 467.8,79.6 504.8,94.3" fill="none" stroke="#c8102e" stroke-width="1.4"/>
<rect x="428.70" y="61.35" width="4.20" height="4.20" fill="#c8102e"/>
<rect x="465.70" y="77.51" width="4.20" height="4.20" fill="#c8102e"/>
<rect x="502.70" y="92.21" width="4.20" height="4.20" fill="#c8102e"/>
<polyline points="430.8,52.2 467.8,64.0 504.8,79.6" fill="none" stroke="#3db54a" stroke-width="1.4"/>
<rect x="428.70" y="50.14" width="4.20" height="4.20" fill="#3db54a"/>
<rect x="465.70" y="61.90" width="4.20" height="4.20" fill="#3db54a"/>
<rect x="502.70" y="77.51" width="4.20" height="4.20" fill="#3db54a"/>
<line x1="409.20" y1="185.40" x2="422.00" y2="185.40" stroke="#1d5a94" stroke-width="1.4"/>
<rect x="412.80" y="183.00" width="5.00" height="4.70" fill="#1d5a94"/>
<text x="425.00" y="187.90" font-size="7.0" text-anchor="start" textLength="55.62" lengthAdjust="spacingAndGlyphs" fill="#231f20">miR-CTR inhibitor</text>
<line x1="409.20" y1="195.80" x2="422.00" y2="195.80" stroke="#f7981d" stroke-width="1.4"/>
<rect x="412.80" y="193.40" width="5.00" height="4.70" fill="#f7981d"/>
<text x="425.00" y="198.30" font-size="7.0" text-anchor="start" textLength="75.66" lengthAdjust="spacingAndGlyphs" fill="#231f20">miR-CTR inhibitor+IL-23</text>
<line x1="409.20" y1="206.60" x2="422.00" y2="206.60" stroke="#c8102e" stroke-width="1.4"/>
<rect x="412.80" y="204.20" width="5.00" height="4.70" fill="#c8102e"/>
<text x="425.00" y="209.10" font-size="7.0" text-anchor="start" textLength="66.92" lengthAdjust="spacingAndGlyphs" fill="#231f20">miR-146b-5p inhibitor</text>
<line x1="409.20" y1="217.20" x2="422.00" y2="217.20" stroke="#3db54a" stroke-width="1.4"/>
<rect x="412.80" y="214.80" width="5.00" height="4.70" fill="#3db54a"/>
<text x="425.00" y="219.70" font-size="7.0" text-anchor="start" textLength="86.97" lengthAdjust="spacingAndGlyphs" fill="#231f20">miR-146b-5p inhibitor+IL-23</text>
<line x1="409.20" y1="227.60" x2="422.00" y2="227.60" stroke="#5c2a7e" stroke-width="1.4"/>
<rect x="412.80" y="225.20" width="5.00" height="4.70" fill="#5c2a7e"/>
<text x="425.00" y="230.10" font-size="7.0" text-anchor="start" textLength="91.01" lengthAdjust="spacingAndGlyphs" fill="#231f20">miR-145b-5p inhibitor+αIL-23</text>
<line x1="409.20" y1="238.00" x2="422.00" y2="238.00" stroke="#0d6b55" stroke-width="1.4"/>
<rect x="412.80" y="235.60" width="5.00" height="4.70" fill="#0d6b55"/>
<text x="425.00" y="240.50" font-size="7.0" text-anchor="start" textLength="86.97" lengthAdjust="spacingAndGlyphs" fill="#231f20">miR-145b-5p inhibitor+IL-23</text>
<text x="425.00" y="250.20" font-size="7.0" text-anchor="start" textLength="24.09" lengthAdjust="spacingAndGlyphs" fill="#231f20">+αIL-23</text>
<text x="0.60" y="282.00" font-size="11.5" font-weight="bold" text-anchor="start" textLength="8.31" lengthAdjust="spacingAndGlyphs" fill="#111">H</text>
<text x="66.20" y="292.00" font-size="7.8" text-anchor="middle" textLength="63.50" lengthAdjust="spacingAndGlyphs" fill="#231f20">miR-CTR inhibitor</text>
<path d="M51.49,376.10 52.44,373.90 53.01,370.24 53.39,364.37 53.82,350.45 54.30,332.12 54.82,313.80 55.14,302.80 55.44,302.80 55.77,313.80 56.29,332.12 56.77,350.45 57.19,364.37 57.57,370.24 58.14,373.90 59.09,376.10Z" fill="#c8102e" stroke="#8f0b22" stroke-width="0.35" stroke-linejoin="round"/>
<line x1="21.30" y1="297.00" x2="21.30" y2="376.10" stroke="#111" stroke-width="1.0"/>
<line x1="17.90" y1="376.10" x2="111.90" y2="376.10" stroke="#111" stroke-width="1.3"/>
<line x1="18.30" y1="301.60" x2="21.30" y2="301.60" stroke="#111" stroke-width="0.9"/>
<text x="14.90" y="304.00" font-size="6.8" text-anchor="end" textLength="12.79" lengthAdjust="spacingAndGlyphs" fill="#231f20">911</text>
<line x1="18.30" y1="320.25" x2="21.30" y2="320.25" stroke="#111" stroke-width="0.9"/>
<text x="14.90" y="322.65" font-size="6.8" text-anchor="end" textLength="13.39" lengthAdjust="spacingAndGlyphs" fill="#231f20">683</text>
<line x1="18.30" y1="338.81" x2="21.30" y2="338.81" stroke="#111" stroke-width="0.9"/>
<text x="14.90" y="341.21" font-size="6.8" text-anchor="end" textLength="13.39" lengthAdjust="spacingAndGlyphs" fill="#231f20">456</text>
<line x1="18.30" y1="357.45" x2="21.30" y2="357.45" stroke="#111" stroke-width="0.9"/>
<text x="14.90" y="359.85" font-size="6.8" text-anchor="end" textLength="13.39" lengthAdjust="spacingAndGlyphs" fill="#231f20">228</text>
<line x1="21.45" y1="376.10" x2="21.45" y2="378.30" stroke="#222" stroke-width="0.8"/>
<line x1="23.75" y1="376.10" x2="23.75" y2="378.30" stroke="#222" stroke-width="0.8"/>
<line x1="26.05" y1="376.10" x2="26.05" y2="378.30" stroke="#222" stroke-width="0.8"/>
<line x1="28.35" y1="376.10" x2="28.35" y2="378.30" stroke="#222" stroke-width="0.8"/>
<line x1="30.65" y1="376.10" x2="30.65" y2="378.30" stroke="#222" stroke-width="0.8"/>
<line x1="32.95" y1="376.10" x2="32.95" y2="378.30" stroke="#222" stroke-width="0.8"/>
<line x1="35.25" y1="376.10" x2="35.25" y2="378.30" stroke="#222" stroke-width="0.8"/>
<line x1="37.55" y1="376.10" x2="37.55" y2="378.30" stroke="#222" stroke-width="0.8"/>
<line x1="39.85" y1="376.10" x2="39.85" y2="378.30" stroke="#222" stroke-width="0.8"/>
<line x1="42.15" y1="376.10" x2="42.15" y2="378.30" stroke="#222" stroke-width="0.8"/>
<line x1="44.45" y1="376.10" x2="44.45" y2="378.30" stroke="#222" stroke-width="0.8"/>
<line x1="46.75" y1="376.10" x2="46.75" y2="378.30" stroke="#222" stroke-width="0.8"/>
<line x1="49.05" y1="376.10" x2="49.05" y2="378.30" stroke="#222" stroke-width="0.8"/>
<line x1="51.35" y1="376.10" x2="51.35" y2="378.30" stroke="#222" stroke-width="0.8"/>
<line x1="53.65" y1="376.10" x2="53.65" y2="378.30" stroke="#222" stroke-width="0.8"/>
<line x1="55.95" y1="376.10" x2="55.95" y2="378.30" stroke="#222" stroke-width="0.8"/>
<line x1="58.25" y1="376.10" x2="58.25" y2="378.30" stroke="#222" stroke-width="0.8"/>
<line x1="60.55" y1="376.10" x2="60.55" y2="378.30" stroke="#222" stroke-width="0.8"/>
<line x1="62.85" y1="376.10" x2="62.85" y2="378.30" stroke="#222" stroke-width="0.8"/>
<line x1="65.15" y1="376.10" x2="65.15" y2="378.30" stroke="#222" stroke-width="0.8"/>
<line x1="67.45" y1="376.10" x2="67.45" y2="378.30" stroke="#222" stroke-width="0.8"/>
<line x1="69.75" y1="376.10" x2="69.75" y2="378.30" stroke="#222" stroke-width="0.8"/>
<line x1="72.05" y1="376.10" x2="72.05" y2="378.30" stroke="#222" stroke-width="0.8"/>
<line x1="74.35" y1="376.10" x2="74.35" y2="378.30" stroke="#222" stroke-width="0.8"/>
<line x1="76.65" y1="376.10" x2="76.65" y2="378.30" stroke="#222" stroke-width="0.8"/>
<line x1="78.95" y1="376.10" x2="78.95" y2="378.30" stroke="#222" stroke-width="0.8"/>
<line x1="81.25" y1="376.10" x2="81.25" y2="378.30" stroke="#222" stroke-width="0.8"/>
<line x1="83.55" y1="376.10" x2="83.55" y2="378.30" stroke="#222" stroke-width="0.8"/>
<line x1="85.85" y1="376.10" x2="85.85" y2="378.30" stroke="#222" stroke-width="0.8"/>
<line x1="88.15" y1="376.10" x2="88.15" y2="378.30" stroke="#222" stroke-width="0.8"/>
<line x1="90.45" y1="376.10" x2="90.45" y2="378.30" stroke="#222" stroke-width="0.8"/>
<line x1="92.75" y1="376.10" x2="92.75" y2="378.30" stroke="#222" stroke-width="0.8"/>
<line x1="95.05" y1="376.10" x2="95.05" y2="378.30" stroke="#222" stroke-width="0.8"/>
<line x1="97.35" y1="376.10" x2="97.35" y2="378.30" stroke="#222" stroke-width="0.8"/>
<line x1="99.65" y1="376.10" x2="99.65" y2="378.30" stroke="#222" stroke-width="0.8"/>
<line x1="101.95" y1="376.10" x2="101.95" y2="378.30" stroke="#222" stroke-width="0.8"/>
<line x1="104.25" y1="376.10" x2="104.25" y2="378.30" stroke="#222" stroke-width="0.8"/>
<line x1="106.55" y1="376.10" x2="106.55" y2="378.30" stroke="#222" stroke-width="0.8"/>
<line x1="108.85" y1="376.10" x2="108.85" y2="378.30" stroke="#222" stroke-width="0.8"/>
<line x1="111.15" y1="376.10" x2="111.15" y2="378.30" stroke="#222" stroke-width="0.8"/>
<text x="37.80" y="388.30" font-size="6.9" text-anchor="middle" textLength="9.36" lengthAdjust="spacingAndGlyphs" fill="#231f20">50</text>
<text x="54.15" y="388.30" font-size="6.9" text-anchor="middle" textLength="14.05" lengthAdjust="spacingAndGlyphs" fill="#231f20">100</text>
<text x="70.50" y="388.30" font-size="6.9" text-anchor="middle" textLength="14.05" lengthAdjust="spacingAndGlyphs" fill="#231f20">150</text>
<text x="86.85" y="388.30" font-size="6.9" text-anchor="middle" textLength="14.05" lengthAdjust="spacingAndGlyphs" fill="#231f20">200</text>
<text x="103.20" y="388.30" font-size="6.9" text-anchor="middle" textLength="14.05" lengthAdjust="spacingAndGlyphs" fill="#231f20">250</text>
<text x="65.90" y="401.00" font-size="9.6" font-weight="bold" text-anchor="middle" textLength="5.20" lengthAdjust="spacingAndGlyphs" fill="#231f20">PI</text>
<text x="88.10" y="337.20" font-size="7.2" text-anchor="middle" textLength="16.20" lengthAdjust="spacingAndGlyphs" fill="#231f20">G2M</text>
<text x="88.40" y="345.60" font-size="7.0" text-anchor="middle" textLength="16.91" lengthAdjust="spacingAndGlyphs" fill="#231f20">2.5%</text>
<text x="191.00" y="292.00" font-size="7.8" text-anchor="middle" textLength="78.00" lengthAdjust="spacingAndGlyphs" fill="#231f20">miR-146b-5p inhibitor</text>
<path d="M207.5,375.8 L209,374.6 L210.5,374.2 L212,373.2 L213,374 L214,372.8 L215,373.6 L216,371.6 L217,373.4 L218,372.3 L219,373.5 L220.5,373 L222,374.5 L223.5,375.8 Z" fill="#45c04f" stroke="#35a840" stroke-width="0.3"/>
<path d="M175.53,375.80 176.53,373.59 177.13,369.90 177.53,363.99 177.98,349.97 178.48,331.52 179.03,313.07 179.38,302.00 179.68,302.00 180.03,313.07 180.58,331.52 181.08,349.97 181.53,363.99 181.93,369.90 182.53,373.59 183.53,375.80Z" fill="#c8102e" stroke="#8f0b22" stroke-width="0.35" stroke-linejoin="round"/>
<line x1="145.60" y1="296.00" x2="145.60" y2="375.80" stroke="#111" stroke-width="1.0"/>
<line x1="142.20" y1="375.80" x2="236.10" y2="375.80" stroke="#111" stroke-width="1.3"/>
<line x1="142.60" y1="301.00" x2="145.60" y2="301.00" stroke="#111" stroke-width="0.9"/>
<text x="139.20" y="303.40" font-size="6.8" text-anchor="end" textLength="12.79" lengthAdjust="spacingAndGlyphs" fill="#231f20">119</text>
<line x1="142.60" y1="319.86" x2="145.60" y2="319.86" stroke="#111" stroke-width="0.9"/>
<text x="139.20" y="322.26" font-size="6.8" text-anchor="end" textLength="8.93" lengthAdjust="spacingAndGlyphs" fill="#231f20">89</text>
<line x1="142.60" y1="338.09" x2="145.60" y2="338.09" stroke="#111" stroke-width="0.9"/>
<text x="139.20" y="340.49" font-size="6.8" text-anchor="end" textLength="8.93" lengthAdjust="spacingAndGlyphs" fill="#231f20">60</text>
<line x1="142.60" y1="356.94" x2="145.60" y2="356.94" stroke="#111" stroke-width="0.9"/>
<text x="139.20" y="359.34" font-size="6.8" text-anchor="end" textLength="8.93" lengthAdjust="spacingAndGlyphs" fill="#231f20">30</text>
<line x1="145.75" y1="375.80" x2="145.75" y2="378.00" stroke="#222" stroke-width="0.8"/>
<line x1="148.05" y1="375.80" x2="148.05" y2="378.00" stroke="#222" stroke-width="0.8"/>
<line x1="150.35" y1="375.80" x2="150.35" y2="378.00" stroke="#222" stroke-width="0.8"/>
<line x1="152.65" y1="375.80" x2="152.65" y2="378.00" stroke="#222" stroke-width="0.8"/>
<line x1="154.95" y1="375.80" x2="154.95" y2="378.00" stroke="#222" stroke-width="0.8"/>
<line x1="157.25" y1="375.80" x2="157.25" y2="378.00" stroke="#222" stroke-width="0.8"/>
<line x1="159.55" y1="375.80" x2="159.55" y2="378.00" stroke="#222" stroke-width="0.8"/>
<line x1="161.85" y1="375.80" x2="161.85" y2="378.00" stroke="#222" stroke-width="0.8"/>
<line x1="164.15" y1="375.80" x2="164.15" y2="378.00" stroke="#222" stroke-width="0.8"/>
<line x1="166.45" y1="375.80" x2="166.45" y2="378.00" stroke="#222" stroke-width="0.8"/>
<line x1="168.75" y1="375.80" x2="168.75" y2="378.00" stroke="#222" stroke-width="0.8"/>
<line x1="171.05" y1="375.80" x2="171.05" y2="378.00" stroke="#222" stroke-width="0.8"/>
<line x1="173.35" y1="375.80" x2="173.35" y2="378.00" stroke="#222" stroke-width="0.8"/>
<line x1="175.65" y1="375.80" x2="175.65" y2="378.00" stroke="#222" stroke-width="0.8"/>
<line x1="177.95" y1="375.80" x2="177.95" y2="378.00" stroke="#222" stroke-width="0.8"/>
<line x1="180.25" y1="375.80" x2="180.25" y2="378.00" stroke="#222" stroke-width="0.8"/>
<line x1="182.55" y1="375.80" x2="182.55" y2="378.00" stroke="#222" stroke-width="0.8"/>
<line x1="184.85" y1="375.80" x2="184.85" y2="378.00" stroke="#222" stroke-width="0.8"/>
<line x1="187.15" y1="375.80" x2="187.15" y2="378.00" stroke="#222" stroke-width="0.8"/>
<line x1="189.45" y1="375.80" x2="189.45" y2="378.00" stroke="#222" stroke-width="0.8"/>
<line x1="191.75" y1="375.80" x2="191.75" y2="378.00" stroke="#222" stroke-width="0.8"/>
<line x1="194.05" y1="375.80" x2="194.05" y2="378.00" stroke="#222" stroke-width="0.8"/>
<line x1="196.35" y1="375.80" x2="196.35" y2="378.00" stroke="#222" stroke-width="0.8"/>
<line x1="198.65" y1="375.80" x2="198.65" y2="378.00" stroke="#222" stroke-width="0.8"/>
<line x1="200.95" y1="375.80" x2="200.95" y2="378.00" stroke="#222" stroke-width="0.8"/>
<line x1="203.25" y1="375.80" x2="203.25" y2="378.00" stroke="#222" stroke-width="0.8"/>
<line x1="205.55" y1="375.80" x2="205.55" y2="378.00" stroke="#222" stroke-width="0.8"/>
<line x1="207.85" y1="375.80" x2="207.85" y2="378.00" stroke="#222" stroke-width="0.8"/>
<line x1="210.15" y1="375.80" x2="210.15" y2="378.00" stroke="#222" stroke-width="0.8"/>
<line x1="212.45" y1="375.80" x2="212.45" y2="378.00" stroke="#222" stroke-width="0.8"/>
<line x1="214.75" y1="375.80" x2="214.75" y2="378.00" stroke="#222" stroke-width="0.8"/>
<line x1="217.05" y1="375.80" x2="217.05" y2="378.00" stroke="#222" stroke-width="0.8"/>
<line x1="219.35" y1="375.80" x2="219.35" y2="378.00" stroke="#222" stroke-width="0.8"/>
<line x1="221.65" y1="375.80" x2="221.65" y2="378.00" stroke="#222" stroke-width="0.8"/>
<line x1="223.95" y1="375.80" x2="223.95" y2="378.00" stroke="#222" stroke-width="0.8"/>
<line x1="226.25" y1="375.80" x2="226.25" y2="378.00" stroke="#222" stroke-width="0.8"/>
<line x1="228.55" y1="375.80" x2="228.55" y2="378.00" stroke="#222" stroke-width="0.8"/>
<line x1="230.85" y1="375.80" x2="230.85" y2="378.00" stroke="#222" stroke-width="0.8"/>
<line x1="233.15" y1="375.80" x2="233.15" y2="378.00" stroke="#222" stroke-width="0.8"/>
<line x1="235.45" y1="375.80" x2="235.45" y2="378.00" stroke="#222" stroke-width="0.8"/>
<text x="162.10" y="388.00" font-size="6.9" text-anchor="middle" textLength="9.36" lengthAdjust="spacingAndGlyphs" fill="#231f20">50</text>
<text x="178.45" y="388.00" font-size="6.9" text-anchor="middle" textLength="14.05" lengthAdjust="spacingAndGlyphs" fill="#231f20">100</text>
<text x="194.80" y="388.00" font-size="6.9" text-anchor="middle" textLength="14.05" lengthAdjust="spacingAndGlyphs" fill="#231f20">150</text>
<text x="211.15" y="388.00" font-size="6.9" text-anchor="middle" textLength="14.05" lengthAdjust="spacingAndGlyphs" fill="#231f20">200</text>
<text x="227.50" y="388.00" font-size="6.9" text-anchor="middle" textLength="14.05" lengthAdjust="spacingAndGlyphs" fill="#231f20">250</text>
<text x="190.20" y="400.70" font-size="9.6" font-weight="bold" text-anchor="middle" textLength="5.20" lengthAdjust="spacingAndGlyphs" fill="#231f20">PI</text>
<text x="213.10" y="337.20" font-size="7.2" text-anchor="middle" textLength="16.20" lengthAdjust="spacingAndGlyphs" fill="#231f20">G2M</text>
<text x="213.30" y="345.60" font-size="7.0" text-anchor="middle" textLength="16.91" lengthAdjust="spacingAndGlyphs" fill="#231f20">6.5%</text>
<text x="310.30" y="282.60" font-size="7.8" text-anchor="middle" textLength="78.20" lengthAdjust="spacingAndGlyphs" fill="#231f20">miR-146b-5p inhibitor</text>
<text x="310.30" y="292.20" font-size="7.8" text-anchor="middle" textLength="24.00" lengthAdjust="spacingAndGlyphs" fill="#231f20">+IL-23</text>
<path d="M326.5,375.8 L327.5,372 L328.5,374 L329.5,369.5 L330.2,373 L331,368 L331.8,372.5 L332.6,366.5 L333.4,365.8 L334.2,371 L335,369 L335.8,373 L336.5,368.5 L337.3,372.5 L338,368.8 L338.8,373 L339.6,368.5 L340.4,372.5 L341.2,370 L342,375.8 Z" fill="#45c04f" stroke="#35a840" stroke-width="0.3"/>
<path d="M295.53,375.80 296.53,373.59 297.13,369.90 297.53,363.99 297.98,349.97 298.48,331.52 299.03,313.07 299.38,302.00 299.68,302.00 300.03,313.07 300.58,331.52 301.08,349.97 301.53,363.99 301.93,369.90 302.53,373.59 303.53,375.80Z" fill="#c8102e" stroke="#8f0b22" stroke-width="0.35" stroke-linejoin="round"/>
<line x1="265.60" y1="296.00" x2="265.60" y2="375.80" stroke="#111" stroke-width="1.0"/>
<line x1="262.20" y1="375.80" x2="356.10" y2="375.80" stroke="#111" stroke-width="1.3"/>
<line x1="262.60" y1="301.80" x2="265.60" y2="301.80" stroke="#111" stroke-width="0.9"/>
<text x="259.20" y="304.20" font-size="6.8" text-anchor="end" textLength="8.93" lengthAdjust="spacingAndGlyphs" fill="#231f20">41</text>
<line x1="262.60" y1="319.85" x2="265.60" y2="319.85" stroke="#111" stroke-width="0.9"/>
<text x="259.20" y="322.25" font-size="6.8" text-anchor="end" textLength="8.93" lengthAdjust="spacingAndGlyphs" fill="#231f20">31</text>
<line x1="262.60" y1="339.70" x2="265.60" y2="339.70" stroke="#111" stroke-width="0.9"/>
<text x="259.20" y="342.10" font-size="6.8" text-anchor="end" textLength="8.93" lengthAdjust="spacingAndGlyphs" fill="#231f20">20</text>
<line x1="262.60" y1="357.75" x2="265.60" y2="357.75" stroke="#111" stroke-width="0.9"/>
<text x="259.20" y="360.15" font-size="6.8" text-anchor="end" textLength="8.93" lengthAdjust="spacingAndGlyphs" fill="#231f20">10</text>
<line x1="265.75" y1="375.80" x2="265.75" y2="378.00" stroke="#222" stroke-width="0.8"/>
<line x1="268.05" y1="375.80" x2="268.05" y2="378.00" stroke="#222" stroke-width="0.8"/>
<line x1="270.35" y1="375.80" x2="270.35" y2="378.00" stroke="#222" stroke-width="0.8"/>
<line x1="272.65" y1="375.80" x2="272.65" y2="378.00" stroke="#222" stroke-width="0.8"/>
<line x1="274.95" y1="375.80" x2="274.95" y2="378.00" stroke="#222" stroke-width="0.8"/>
<line x1="277.25" y1="375.80" x2="277.25" y2="378.00" stroke="#222" stroke-width="0.8"/>
<line x1="279.55" y1="375.80" x2="279.55" y2="378.00" stroke="#222" stroke-width="0.8"/>
<line x1="281.85" y1="375.80" x2="281.85" y2="378.00" stroke="#222" stroke-width="0.8"/>
<line x1="284.15" y1="375.80" x2="284.15" y2="378.00" stroke="#222" stroke-width="0.8"/>
<line x1="286.45" y1="375.80" x2="286.45" y2="378.00" stroke="#222" stroke-width="0.8"/>
<line x1="288.75" y1="375.80" x2="288.75" y2="378.00" stroke="#222" stroke-width="0.8"/>
<line x1="291.05" y1="375.80" x2="291.05" y2="378.00" stroke="#222" stroke-width="0.8"/>
<line x1="293.35" y1="375.80" x2="293.35" y2="378.00" stroke="#222" stroke-width="0.8"/>
<line x1="295.65" y1="375.80" x2="295.65" y2="378.00" stroke="#222" stroke-width="0.8"/>
<line x1="297.95" y1="375.80" x2="297.95" y2="378.00" stroke="#222" stroke-width="0.8"/>
<line x1="300.25" y1="375.80" x2="300.25" y2="378.00" stroke="#222" stroke-width="0.8"/>
<line x1="302.55" y1="375.80" x2="302.55" y2="378.00" stroke="#222" stroke-width="0.8"/>
<line x1="304.85" y1="375.80" x2="304.85" y2="378.00" stroke="#222" stroke-width="0.8"/>
<line x1="307.15" y1="375.80" x2="307.15" y2="378.00" stroke="#222" stroke-width="0.8"/>
<line x1="309.45" y1="375.80" x2="309.45" y2="378.00" stroke="#222" stroke-width="0.8"/>
<line x1="311.75" y1="375.80" x2="311.75" y2="378.00" stroke="#222" stroke-width="0.8"/>
<line x1="314.05" y1="375.80" x2="314.05" y2="378.00" stroke="#222" stroke-width="0.8"/>
<line x1="316.35" y1="375.80" x2="316.35" y2="378.00" stroke="#222" stroke-width="0.8"/>
<line x1="318.65" y1="375.80" x2="318.65" y2="378.00" stroke="#222" stroke-width="0.8"/>
<line x1="320.95" y1="375.80" x2="320.95" y2="378.00" stroke="#222" stroke-width="0.8"/>
<line x1="323.25" y1="375.80" x2="323.25" y2="378.00" stroke="#222" stroke-width="0.8"/>
<line x1="325.55" y1="375.80" x2="325.55" y2="378.00" stroke="#222" stroke-width="0.8"/>
<line x1="327.85" y1="375.80" x2="327.85" y2="378.00" stroke="#222" stroke-width="0.8"/>
<line x1="330.15" y1="375.80" x2="330.15" y2="378.00" stroke="#222" stroke-width="0.8"/>
<line x1="332.45" y1="375.80" x2="332.45" y2="378.00" stroke="#222" stroke-width="0.8"/>
<line x1="334.75" y1="375.80" x2="334.75" y2="378.00" stroke="#222" stroke-width="0.8"/>
<line x1="337.05" y1="375.80" x2="337.05" y2="378.00" stroke="#222" stroke-width="0.8"/>
<line x1="339.35" y1="375.80" x2="339.35" y2="378.00" stroke="#222" stroke-width="0.8"/>
<line x1="341.65" y1="375.80" x2="341.65" y2="378.00" stroke="#222" stroke-width="0.8"/>
<line x1="343.95" y1="375.80" x2="343.95" y2="378.00" stroke="#222" stroke-width="0.8"/>
<line x1="346.25" y1="375.80" x2="346.25" y2="378.00" stroke="#222" stroke-width="0.8"/>
<line x1="348.55" y1="375.80" x2="348.55" y2="378.00" stroke="#222" stroke-width="0.8"/>
<line x1="350.85" y1="375.80" x2="350.85" y2="378.00" stroke="#222" stroke-width="0.8"/>
<line x1="353.15" y1="375.80" x2="353.15" y2="378.00" stroke="#222" stroke-width="0.8"/>
<line x1="355.45" y1="375.80" x2="355.45" y2="378.00" stroke="#222" stroke-width="0.8"/>
<text x="282.10" y="388.00" font-size="6.9" text-anchor="middle" textLength="9.36" lengthAdjust="spacingAndGlyphs" fill="#231f20">50</text>
<text x="298.45" y="388.00" font-size="6.9" text-anchor="middle" textLength="14.05" lengthAdjust="spacingAndGlyphs" fill="#231f20">100</text>
<text x="314.80" y="388.00" font-size="6.9" text-anchor="middle" textLength="14.05" lengthAdjust="spacingAndGlyphs" fill="#231f20">150</text>
<text x="331.15" y="388.00" font-size="6.9" text-anchor="middle" textLength="14.05" lengthAdjust="spacingAndGlyphs" fill="#231f20">200</text>
<text x="347.50" y="388.00" font-size="6.9" text-anchor="middle" textLength="14.05" lengthAdjust="spacingAndGlyphs" fill="#231f20">250</text>
<text x="310.20" y="400.70" font-size="9.6" font-weight="bold" text-anchor="middle" textLength="5.20" lengthAdjust="spacingAndGlyphs" fill="#231f20">PI</text>
<text x="332.00" y="337.20" font-size="7.2" text-anchor="middle" textLength="16.20" lengthAdjust="spacingAndGlyphs" fill="#231f20">G2M</text>
<text x="332.10" y="345.60" font-size="7.0" text-anchor="middle" textLength="25.17" lengthAdjust="spacingAndGlyphs" fill="#231f20">13.29%</text>
<text x="190.30" y="419.50" font-size="7.8" text-anchor="middle" textLength="78.20" lengthAdjust="spacingAndGlyphs" fill="#231f20">miR-146b-5p inhibitor</text>
<text x="190.30" y="429.20" font-size="7.8" text-anchor="middle" textLength="42.30" lengthAdjust="spacingAndGlyphs" fill="#231f20">+αIL-23p19</text>
<path d="M202,511.7 L206,510.5 L210,509.8 L214,509.3 L218,509.8 L222,510.6 L226,511.7 Z" fill="#45c04f" stroke="#35a840" stroke-width="0.3"/>
<path d="M175.33,511.70 176.38,509.48 177.01,505.79 177.43,499.88 177.90,485.83 178.43,467.36 179.00,448.88 179.38,437.80 179.68,437.80 180.05,448.88 180.63,467.36 181.16,485.83 181.63,499.88 182.05,505.79 182.68,509.48 183.73,511.70Z" fill="#c8102e" stroke="#8f0b22" stroke-width="0.35" stroke-linejoin="round"/>
<line x1="145.60" y1="432.00" x2="145.60" y2="511.70" stroke="#111" stroke-width="1.0"/>
<line x1="142.20" y1="511.70" x2="236.10" y2="511.70" stroke="#111" stroke-width="1.3"/>
<line x1="142.60" y1="437.70" x2="145.60" y2="437.70" stroke="#111" stroke-width="0.9"/>
<text x="139.20" y="440.10" font-size="6.8" text-anchor="end" textLength="13.39" lengthAdjust="spacingAndGlyphs" fill="#231f20">227</text>
<line x1="142.60" y1="456.28" x2="145.60" y2="456.28" stroke="#111" stroke-width="0.9"/>
<text x="139.20" y="458.68" font-size="6.8" text-anchor="end" textLength="13.39" lengthAdjust="spacingAndGlyphs" fill="#231f20">170</text>
<line x1="142.60" y1="474.54" x2="145.60" y2="474.54" stroke="#111" stroke-width="0.9"/>
<text x="139.20" y="476.94" font-size="6.8" text-anchor="end" textLength="12.79" lengthAdjust="spacingAndGlyphs" fill="#231f20">114</text>
<line x1="142.60" y1="493.12" x2="145.60" y2="493.12" stroke="#111" stroke-width="0.9"/>
<text x="139.20" y="495.52" font-size="6.8" text-anchor="end" textLength="8.93" lengthAdjust="spacingAndGlyphs" fill="#231f20">57</text>
<line x1="145.75" y1="511.70" x2="145.75" y2="513.90" stroke="#222" stroke-width="0.8"/>
<line x1="148.05" y1="511.70" x2="148.05" y2="513.90" stroke="#222" stroke-width="0.8"/>
<line x1="150.35" y1="511.70" x2="150.35" y2="513.90" stroke="#222" stroke-width="0.8"/>
<line x1="152.65" y1="511.70" x2="152.65" y2="513.90" stroke="#222" stroke-width="0.8"/>
<line x1="154.95" y1="511.70" x2="154.95" y2="513.90" stroke="#222" stroke-width="0.8"/>
<line x1="157.25" y1="511.70" x2="157.25" y2="513.90" stroke="#222" stroke-width="0.8"/>
<line x1="159.55" y1="511.70" x2="159.55" y2="513.90" stroke="#222" stroke-width="0.8"/>
<line x1="161.85" y1="511.70" x2="161.85" y2="513.90" stroke="#222" stroke-width="0.8"/>
<line x1="164.15" y1="511.70" x2="164.15" y2="513.90" stroke="#222" stroke-width="0.8"/>
<line x1="166.45" y1="511.70" x2="166.45" y2="513.90" stroke="#222" stroke-width="0.8"/>
<line x1="168.75" y1="511.70" x2="168.75" y2="513.90" stroke="#222" stroke-width="0.8"/>
<line x1="171.05" y1="511.70" x2="171.05" y2="513.90" stroke="#222" stroke-width="0.8"/>
<line x1="173.35" y1="511.70" x2="173.35" y2="513.90" stroke="#222" stroke-width="0.8"/>
<line x1="175.65" y1="511.70" x2="175.65" y2="513.90" stroke="#222" stroke-width="0.8"/>
<line x1="177.95" y1="511.70" x2="177.95" y2="513.90" stroke="#222" stroke-width="0.8"/>
<line x1="180.25" y1="511.70" x2="180.25" y2="513.90" stroke="#222" stroke-width="0.8"/>
<line x1="182.55" y1="511.70" x2="182.55" y2="513.90" stroke="#222" stroke-width="0.8"/>
<line x1="184.85" y1="511.70" x2="184.85" y2="513.90" stroke="#222" stroke-width="0.8"/>
<line x1="187.15" y1="511.70" x2="187.15" y2="513.90" stroke="#222" stroke-width="0.8"/>
<line x1="189.45" y1="511.70" x2="189.45" y2="513.90" stroke="#222" stroke-width="0.8"/>
<line x1="191.75" y1="511.70" x2="191.75" y2="513.90" stroke="#222" stroke-width="0.8"/>
<line x1="194.05" y1="511.70" x2="194.05" y2="513.90" stroke="#222" stroke-width="0.8"/>
<line x1="196.35" y1="511.70" x2="196.35" y2="513.90" stroke="#222" stroke-width="0.8"/>
<line x1="198.65" y1="511.70" x2="198.65" y2="513.90" stroke="#222" stroke-width="0.8"/>
<line x1="200.95" y1="511.70" x2="200.95" y2="513.90" stroke="#222" stroke-width="0.8"/>
<line x1="203.25" y1="511.70" x2="203.25" y2="513.90" stroke="#222" stroke-width="0.8"/>
<line x1="205.55" y1="511.70" x2="205.55" y2="513.90" stroke="#222" stroke-width="0.8"/>
<line x1="207.85" y1="511.70" x2="207.85" y2="513.90" stroke="#222" stroke-width="0.8"/>
<line x1="210.15" y1="511.70" x2="210.15" y2="513.90" stroke="#222" stroke-width="0.8"/>
<line x1="212.45" y1="511.70" x2="212.45" y2="513.90" stroke="#222" stroke-width="0.8"/>
<line x1="214.75" y1="511.70" x2="214.75" y2="513.90" stroke="#222" stroke-width="0.8"/>
<line x1="217.05" y1="511.70" x2="217.05" y2="513.90" stroke="#222" stroke-width="0.8"/>
<line x1="219.35" y1="511.70" x2="219.35" y2="513.90" stroke="#222" stroke-width="0.8"/>
<line x1="221.65" y1="511.70" x2="221.65" y2="513.90" stroke="#222" stroke-width="0.8"/>
<line x1="223.95" y1="511.70" x2="223.95" y2="513.90" stroke="#222" stroke-width="0.8"/>
<line x1="226.25" y1="511.70" x2="226.25" y2="513.90" stroke="#222" stroke-width="0.8"/>
<line x1="228.55" y1="511.70" x2="228.55" y2="513.90" stroke="#222" stroke-width="0.8"/>
<line x1="230.85" y1="511.70" x2="230.85" y2="513.90" stroke="#222" stroke-width="0.8"/>
<line x1="233.15" y1="511.70" x2="233.15" y2="513.90" stroke="#222" stroke-width="0.8"/>
<line x1="235.45" y1="511.70" x2="235.45" y2="513.90" stroke="#222" stroke-width="0.8"/>
<text x="162.10" y="523.90" font-size="6.9" text-anchor="middle" textLength="9.36" lengthAdjust="spacingAndGlyphs" fill="#231f20">50</text>
<text x="178.45" y="523.90" font-size="6.9" text-anchor="middle" textLength="14.05" lengthAdjust="spacingAndGlyphs" fill="#231f20">100</text>
<text x="194.80" y="523.90" font-size="6.9" text-anchor="middle" textLength="14.05" lengthAdjust="spacingAndGlyphs" fill="#231f20">150</text>
<text x="211.15" y="523.90" font-size="6.9" text-anchor="middle" textLength="14.05" lengthAdjust="spacingAndGlyphs" fill="#231f20">200</text>
<text x="227.50" y="523.90" font-size="6.9" text-anchor="middle" textLength="14.05" lengthAdjust="spacingAndGlyphs" fill="#231f20">250</text>
<text x="190.20" y="536.60" font-size="9.6" font-weight="bold" text-anchor="middle" textLength="5.20" lengthAdjust="spacingAndGlyphs" fill="#231f20">PI</text>
<text x="217.15" y="473.20" font-size="7.2" text-anchor="middle" textLength="16.20" lengthAdjust="spacingAndGlyphs" fill="#231f20">G2M</text>
<text x="217.15" y="481.60" font-size="7.0" text-anchor="middle" textLength="21.04" lengthAdjust="spacingAndGlyphs" fill="#231f20">0.52%</text>
<text x="310.00" y="419.50" font-size="7.8" text-anchor="middle" textLength="78.80" lengthAdjust="spacingAndGlyphs" fill="#231f20">miR-146b-5p inhibitor</text>
<text x="310.00" y="429.20" font-size="7.8" text-anchor="middle" textLength="67.60" lengthAdjust="spacingAndGlyphs" fill="#231f20">+IL-23+αIL-23p19</text>
<path d="M322,511.2 L326,510.4 L330,509.8 L334,509.3 L338,510.0 L342,511.2 Z" fill="#45c04f" stroke="#35a840" stroke-width="0.3"/>
<path d="M294.54,511.20 295.64,508.97 296.30,505.26 296.74,499.33 297.24,485.23 297.79,466.68 298.39,448.13 298.79,437.00 299.09,437.00 299.49,448.13 300.10,466.68 300.65,485.23 301.14,499.33 301.58,505.26 302.24,508.97 303.34,511.20Z" fill="#c8102e" stroke="#8f0b22" stroke-width="0.35" stroke-linejoin="round"/>
<line x1="265.60" y1="432.00" x2="265.60" y2="511.20" stroke="#111" stroke-width="1.0"/>
<line x1="262.20" y1="511.20" x2="356.10" y2="511.20" stroke="#111" stroke-width="1.3"/>
<line x1="262.60" y1="436.30" x2="265.60" y2="436.30" stroke="#111" stroke-width="0.9"/>
<text x="259.20" y="438.70" font-size="6.8" text-anchor="end" textLength="13.39" lengthAdjust="spacingAndGlyphs" fill="#231f20">192</text>
<line x1="262.60" y1="455.02" x2="265.60" y2="455.02" stroke="#111" stroke-width="0.9"/>
<text x="259.20" y="457.42" font-size="6.8" text-anchor="end" textLength="13.39" lengthAdjust="spacingAndGlyphs" fill="#231f20">144</text>
<line x1="262.60" y1="473.75" x2="265.60" y2="473.75" stroke="#111" stroke-width="0.9"/>
<text x="259.20" y="476.15" font-size="6.8" text-anchor="end" textLength="8.93" lengthAdjust="spacingAndGlyphs" fill="#231f20">96</text>
<line x1="262.60" y1="492.48" x2="265.60" y2="492.48" stroke="#111" stroke-width="0.9"/>
<text x="259.20" y="494.88" font-size="6.8" text-anchor="end" textLength="8.93" lengthAdjust="spacingAndGlyphs" fill="#231f20">48</text>
<line x1="265.75" y1="511.20" x2="265.75" y2="513.40" stroke="#222" stroke-width="0.8"/>
<line x1="268.05" y1="511.20" x2="268.05" y2="513.40" stroke="#222" stroke-width="0.8"/>
<line x1="270.35" y1="511.20" x2="270.35" y2="513.40" stroke="#222" stroke-width="0.8"/>
<line x1="272.65" y1="511.20" x2="272.65" y2="513.40" stroke="#222" stroke-width="0.8"/>
<line x1="274.95" y1="511.20" x2="274.95" y2="513.40" stroke="#222" stroke-width="0.8"/>
<line x1="277.25" y1="511.20" x2="277.25" y2="513.40" stroke="#222" stroke-width="0.8"/>
<line x1="279.55" y1="511.20" x2="279.55" y2="513.40" stroke="#222" stroke-width="0.8"/>
<line x1="281.85" y1="511.20" x2="281.85" y2="513.40" stroke="#222" stroke-width="0.8"/>
<line x1="284.15" y1="511.20" x2="284.15" y2="513.40" stroke="#222" stroke-width="0.8"/>
<line x1="286.45" y1="511.20" x2="286.45" y2="513.40" stroke="#222" stroke-width="0.8"/>
<line x1="288.75" y1="511.20" x2="288.75" y2="513.40" stroke="#222" stroke-width="0.8"/>
<line x1="291.05" y1="511.20" x2="291.05" y2="513.40" stroke="#222" stroke-width="0.8"/>
<line x1="293.35" y1="511.20" x2="293.35" y2="513.40" stroke="#222" stroke-width="0.8"/>
<line x1="295.65" y1="511.20" x2="295.65" y2="513.40" stroke="#222" stroke-width="0.8"/>
<line x1="297.95" y1="511.20" x2="297.95" y2="513.40" stroke="#222" stroke-width="0.8"/>
<line x1="300.25" y1="511.20" x2="300.25" y2="513.40" stroke="#222" stroke-width="0.8"/>
<line x1="302.55" y1="511.20" x2="302.55" y2="513.40" stroke="#222" stroke-width="0.8"/>
<line x1="304.85" y1="511.20" x2="304.85" y2="513.40" stroke="#222" stroke-width="0.8"/>
<line x1="307.15" y1="511.20" x2="307.15" y2="513.40" stroke="#222" stroke-width="0.8"/>
<line x1="309.45" y1="511.20" x2="309.45" y2="513.40" stroke="#222" stroke-width="0.8"/>
<line x1="311.75" y1="511.20" x2="311.75" y2="513.40" stroke="#222" stroke-width="0.8"/>
<line x1="314.05" y1="511.20" x2="314.05" y2="513.40" stroke="#222" stroke-width="0.8"/>
<line x1="316.35" y1="511.20" x2="316.35" y2="513.40" stroke="#222" stroke-width="0.8"/>
<line x1="318.65" y1="511.20" x2="318.65" y2="513.40" stroke="#222" stroke-width="0.8"/>
<line x1="320.95" y1="511.20" x2="320.95" y2="513.40" stroke="#222" stroke-width="0.8"/>
<line x1="323.25" y1="511.20" x2="323.25" y2="513.40" stroke="#222" stroke-width="0.8"/>
<line x1="325.55" y1="511.20" x2="325.55" y2="513.40" stroke="#222" stroke-width="0.8"/>
<line x1="327.85" y1="511.20" x2="327.85" y2="513.40" stroke="#222" stroke-width="0.8"/>
<line x1="330.15" y1="511.20" x2="330.15" y2="513.40" stroke="#222" stroke-width="0.8"/>
<line x1="332.45" y1="511.20" x2="332.45" y2="513.40" stroke="#222" stroke-width="0.8"/>
<line x1="334.75" y1="511.20" x2="334.75" y2="513.40" stroke="#222" stroke-width="0.8"/>
<line x1="337.05" y1="511.20" x2="337.05" y2="513.40" stroke="#222" stroke-width="0.8"/>
<line x1="339.35" y1="511.20" x2="339.35" y2="513.40" stroke="#222" stroke-width="0.8"/>
<line x1="341.65" y1="511.20" x2="341.65" y2="513.40" stroke="#222" stroke-width="0.8"/>
<line x1="343.95" y1="511.20" x2="343.95" y2="513.40" stroke="#222" stroke-width="0.8"/>
<line x1="346.25" y1="511.20" x2="346.25" y2="513.40" stroke="#222" stroke-width="0.8"/>
<line x1="348.55" y1="511.20" x2="348.55" y2="513.40" stroke="#222" stroke-width="0.8"/>
<line x1="350.85" y1="511.20" x2="350.85" y2="513.40" stroke="#222" stroke-width="0.8"/>
<line x1="353.15" y1="511.20" x2="353.15" y2="513.40" stroke="#222" stroke-width="0.8"/>
<line x1="355.45" y1="511.20" x2="355.45" y2="513.40" stroke="#222" stroke-width="0.8"/>
<text x="282.10" y="523.40" font-size="6.9" text-anchor="middle" textLength="9.36" lengthAdjust="spacingAndGlyphs" fill="#231f20">50</text>
<text x="298.45" y="523.40" font-size="6.9" text-anchor="middle" textLength="14.05" lengthAdjust="spacingAndGlyphs" fill="#231f20">100</text>
<text x="314.80" y="523.40" font-size="6.9" text-anchor="middle" textLength="14.05" lengthAdjust="spacingAndGlyphs" fill="#231f20">150</text>
<text x="331.15" y="523.40" font-size="6.9" text-anchor="middle" textLength="14.05" lengthAdjust="spacingAndGlyphs" fill="#231f20">200</text>
<text x="347.50" y="523.40" font-size="6.9" text-anchor="middle" textLength="14.05" lengthAdjust="spacingAndGlyphs" fill="#231f20">250</text>
<text x="310.20" y="536.10" font-size="9.6" font-weight="bold" text-anchor="middle" textLength="5.20" lengthAdjust="spacingAndGlyphs" fill="#231f20">PI</text>
<text x="332.50" y="473.20" font-size="7.2" text-anchor="middle" textLength="16.20" lengthAdjust="spacingAndGlyphs" fill="#231f20">G2M</text>
<text x="332.50" y="481.60" font-size="7.0" text-anchor="middle" textLength="21.04" lengthAdjust="spacingAndGlyphs" fill="#231f20">1.43%</text>
<text x="384.60" y="281.50" font-size="11.5" font-weight="bold" text-anchor="start" textLength="3.19" lengthAdjust="spacingAndGlyphs" fill="#111">I</text>
<text x="466.50" y="282.10" font-size="8.8" text-anchor="middle" textLength="89.70" lengthAdjust="spacingAndGlyphs" fill="#231f20">Cell cycle G2M phase</text>
<text transform="translate(390.60,355.70) rotate(-90)" x="0" y="0" font-size="7.6" text-anchor="middle" textLength="120.00" lengthAdjust="spacingAndGlyphs" fill="#231f20" style="stroke-width:0.3px">% of CLL cells in G2M phase (mean±SD)</text>
<line x1="422.70" y1="411.75" x2="422.70" y2="405.07" stroke="#333" stroke-width="0.9"/>
<line x1="420.90" y1="405.07" x2="424.50" y2="405.07" stroke="#333" stroke-width="1.0"/>
<rect x="417.80" y="411.75" width="9.80" height="9.25" fill="#1d5a94"/>
<line x1="440.00" y1="411.49" x2="440.00" y2="404.04" stroke="#333" stroke-width="0.9"/>
<line x1="438.20" y1="404.04" x2="441.80" y2="404.04" stroke="#333" stroke-width="1.0"/>
<rect x="435.10" y="411.49" width="9.80" height="9.51" fill="#f7981d"/>
<line x1="457.40" y1="390.42" x2="457.40" y2="365.49" stroke="#333" stroke-width="0.9"/>
<line x1="455.60" y1="365.49" x2="459.20" y2="365.49" stroke="#333" stroke-width="1.0"/>
<rect x="452.50" y="390.42" width="9.80" height="30.58" fill="#c8102e"/>
<line x1="474.60" y1="352.64" x2="474.60" y2="316.14" stroke="#333" stroke-width="0.9"/>
<line x1="472.80" y1="316.14" x2="476.40" y2="316.14" stroke="#333" stroke-width="1.0"/>
<rect x="469.70" y="352.64" width="9.80" height="68.36" fill="#3db54a"/>
<line x1="492.10" y1="409.69" x2="492.10" y2="393.24" stroke="#333" stroke-width="0.9"/>
<line x1="490.30" y1="393.24" x2="493.90" y2="393.24" stroke="#333" stroke-width="1.0"/>
<rect x="487.20" y="409.69" width="9.80" height="11.31" fill="#5c2a7e"/>
<line x1="509.30" y1="413.55" x2="509.30" y2="409.18" stroke="#333" stroke-width="0.9"/>
<line x1="507.50" y1="409.18" x2="511.10" y2="409.18" stroke="#333" stroke-width="1.0"/>
<rect x="504.40" y="413.55" width="9.80" height="7.45" fill="#0d6b55"/>
<line x1="413.50" y1="287.50" x2="413.50" y2="421.00" stroke="#231f20" stroke-width="0.9"/>
<line x1="413.50" y1="421.00" x2="520.00" y2="421.00" stroke="#231f20" stroke-width="1.0"/>
<line x1="410.50" y1="421.00" x2="413.50" y2="421.00" stroke="#231f20" stroke-width="0.8"/>
<text x="407.60" y="423.50" font-size="7.0" text-anchor="end" textLength="4.28" lengthAdjust="spacingAndGlyphs" fill="#231f20">0</text>
<line x1="410.50" y1="395.30" x2="413.50" y2="395.30" stroke="#231f20" stroke-width="0.8"/>
<text x="407.60" y="397.80" font-size="7.0" text-anchor="end" textLength="4.28" lengthAdjust="spacingAndGlyphs" fill="#231f20">5</text>
<line x1="410.50" y1="369.60" x2="413.50" y2="369.60" stroke="#231f20" stroke-width="0.8"/>
<text x="407.60" y="372.10" font-size="7.0" text-anchor="end" textLength="8.57" lengthAdjust="spacingAndGlyphs" fill="#231f20">10</text>
<line x1="410.50" y1="343.90" x2="413.50" y2="343.90" stroke="#231f20" stroke-width="0.8"/>
<text x="407.60" y="346.40" font-size="7.0" text-anchor="end" textLength="8.57" lengthAdjust="spacingAndGlyphs" fill="#231f20">15</text>
<line x1="410.50" y1="318.20" x2="413.50" y2="318.20" stroke="#231f20" stroke-width="0.8"/>
<text x="407.60" y="320.70" font-size="7.0" text-anchor="end" textLength="8.57" lengthAdjust="spacingAndGlyphs" fill="#231f20">20</text>
<line x1="410.50" y1="292.50" x2="413.50" y2="292.50" stroke="#231f20" stroke-width="0.8"/>
<text x="407.60" y="295.00" font-size="7.0" text-anchor="end" textLength="8.57" lengthAdjust="spacingAndGlyphs" fill="#231f20">25</text>
<line x1="422.70" y1="421.00" x2="422.70" y2="423.20" stroke="#231f20" stroke-width="0.8"/>
<line x1="440.00" y1="421.00" x2="440.00" y2="423.20" stroke="#231f20" stroke-width="0.8"/>
<line x1="457.40" y1="421.00" x2="457.40" y2="423.20" stroke="#231f20" stroke-width="0.8"/>
<line x1="474.60" y1="421.00" x2="474.60" y2="423.20" stroke="#231f20" stroke-width="0.8"/>
<line x1="492.10" y1="421.00" x2="492.10" y2="423.20" stroke="#231f20" stroke-width="0.8"/>
<line x1="509.30" y1="421.00" x2="509.30" y2="423.20" stroke="#231f20" stroke-width="0.8"/>
<polyline points="422.5,403.5 422.5,359.5 457.2,359.5 457.2,362.5" fill="none" stroke="#333" stroke-width="0.8"/>
<polyline points="458.2,363.5 458.2,308.5 473.6,308.5 473.6,314.5" fill="none" stroke="#333" stroke-width="0.8"/>
<polyline points="475.6,314.5 475.6,308.5 509.6,308.5 509.6,408" fill="none" stroke="#333" stroke-width="0.8"/>
<text x="439.30" y="358.30" font-size="8.0" text-anchor="middle" textLength="3.11" lengthAdjust="spacingAndGlyphs" fill="#231f20">*</text>
<text x="465.80" y="306.30" font-size="8.0" text-anchor="middle" textLength="6.54" lengthAdjust="spacingAndGlyphs" fill="#231f20">**</text>
<text x="491.20" y="306.30" font-size="8.0" text-anchor="middle" textLength="6.54" lengthAdjust="spacingAndGlyphs" fill="#231f20">**</text>
<text transform="translate(426.00,427.90) rotate(-90)" x="0" y="0" font-size="7.9" text-anchor="end" textLength="60.40" lengthAdjust="spacingAndGlyphs" fill="#231f20">miR-CTR inhibitor</text>
<text transform="translate(443.00,427.90) rotate(-90)" x="0" y="0" font-size="7.9" text-anchor="end" textLength="81.90" lengthAdjust="spacingAndGlyphs" fill="#231f20">miR-CTR inhibitor+IL-23</text>
<text transform="translate(459.60,427.90) rotate(-90)" x="0" y="0" font-size="7.9" text-anchor="end" textLength="75.20" lengthAdjust="spacingAndGlyphs" fill="#231f20">miR-146b-5p inhibitor</text>
<text transform="translate(477.20,427.90) rotate(-90)" x="0" y="0" font-size="7.9" text-anchor="end" textLength="96.80" lengthAdjust="spacingAndGlyphs" fill="#231f20">miR-146b-5p inhibitor+IL-23</text>
<text transform="translate(493.60,427.90) rotate(-90)" x="0" y="0" font-size="7.9" text-anchor="end" textLength="114.50" lengthAdjust="spacingAndGlyphs" fill="#231f20">miR-145b-5p inhibitor+αIL-23p19</text>
<text transform="translate(508.90,427.90) rotate(-90)" x="0" y="0" font-size="7.9" text-anchor="end" textLength="102.30" lengthAdjust="spacingAndGlyphs" fill="#231f20">miR-145b-5p inhibitor+IL-23+</text>
<text transform="translate(518.00,427.90) rotate(-90)" x="0" y="0" font-size="7.9" text-anchor="end" textLength="29.80" lengthAdjust="spacingAndGlyphs" fill="#231f20">αIL-23p19</text>
</svg></body></html>
